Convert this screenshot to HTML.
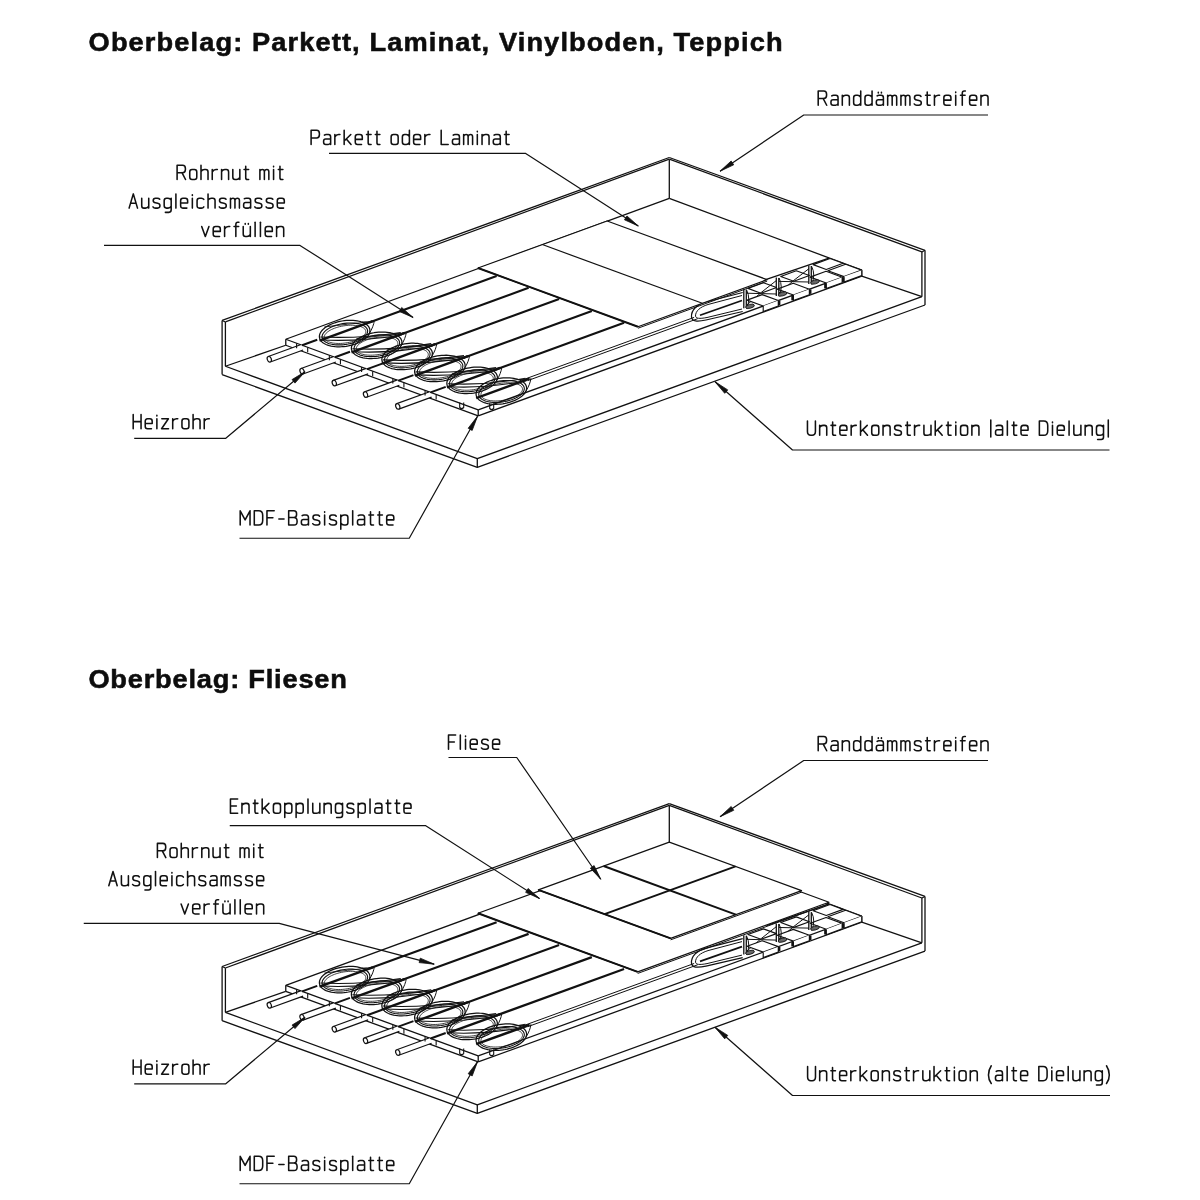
<!DOCTYPE html>
<html><head><meta charset="utf-8"><style>
html,body{margin:0;padding:0;background:#fff;width:1200px;height:1200px;overflow:hidden}
svg{display:block;will-change:transform}
text{font-family:"Liberation Sans",sans-serif;fill:#111;stroke:#111;stroke-width:0.25px}
.t{font-weight:bold;fill:#0d0d0d;stroke:#0d0d0d;stroke-width:0.55px}
</style></head><body>
<svg width="1200" height="1200" viewBox="0 0 1200 1200">
<text class="t" transform="translate(88.6,51.3) scale(1.04,1)" x="0" y="0" textLength="667.31" lengthAdjust="spacing" font-size="26.2">Oberbelag: Parkett, Laminat, Vinylboden, Teppich</text>
<text class="t" transform="translate(88.4,688.1) scale(1.04,1)" x="0" y="0" textLength="248.56" lengthAdjust="spacing" font-size="26.2">Oberbelag: Fliesen</text>
<g><line x1="222.10" y1="320.40" x2="669.30" y2="157.50" stroke="#111" stroke-width="1.25"/>
<line x1="225.40" y1="321.90" x2="669.30" y2="159.20" stroke="#111" stroke-width="1.25"/>
<line x1="669.30" y1="157.50" x2="925.00" y2="250.30" stroke="#111" stroke-width="1.25"/>
<line x1="669.30" y1="159.20" x2="921.90" y2="251.90" stroke="#111" stroke-width="1.25"/>
<line x1="222.10" y1="320.40" x2="225.40" y2="322.00" stroke="#111" stroke-width="1.1"/>
<line x1="921.90" y1="252.00" x2="925.00" y2="250.30" stroke="#111" stroke-width="1.1"/>
<line x1="222.10" y1="320.40" x2="222.10" y2="374.60" stroke="#111" stroke-width="1.3"/>
<line x1="225.40" y1="322.00" x2="225.40" y2="366.25" stroke="#111" stroke-width="1.3"/>
<line x1="669.30" y1="159.50" x2="669.30" y2="198.30" stroke="#111" stroke-width="1.3"/>
<line x1="921.90" y1="252.00" x2="921.90" y2="296.70" stroke="#111" stroke-width="1.3"/>
<line x1="925.00" y1="250.30" x2="925.00" y2="305.00" stroke="#111" stroke-width="1.3"/>
<path d="M225.40,366.25 L477.30,458.70 L921.90,296.70" fill="none" stroke="#111" stroke-width="1.3" stroke-linejoin="round"/>
<path d="M222.10,374.60 L477.30,467.30 L925.00,305.00" fill="none" stroke="#111" stroke-width="1.3" stroke-linejoin="round"/>
<line x1="477.30" y1="458.70" x2="477.30" y2="467.30" stroke="#111" stroke-width="1.3"/>
<line x1="225.40" y1="366.25" x2="285.77" y2="345.25" stroke="#111" stroke-width="1.3"/>
<line x1="861.75" y1="276.13" x2="921.90" y2="296.70" stroke="#111" stroke-width="1.3"/>
<line x1="285.77" y1="339.25" x2="669.30" y2="198.30" stroke="#111" stroke-width="1.3"/>
<line x1="669.30" y1="198.30" x2="861.75" y2="270.13" stroke="#111" stroke-width="1.3"/>
<line x1="478.22" y1="409.88" x2="861.75" y2="270.13" stroke="#111" stroke-width="1.3"/>
<line x1="478.22" y1="415.88" x2="861.75" y2="276.13" stroke="#111" stroke-width="1.3"/>
<line x1="285.77" y1="339.25" x2="478.22" y2="409.88" stroke="#111" stroke-width="1.3"/>
<line x1="285.77" y1="345.25" x2="478.22" y2="415.88" stroke="#111" stroke-width="1.3"/>
<line x1="285.77" y1="339.25" x2="285.77" y2="345.25" stroke="#111" stroke-width="1.3"/>
<line x1="478.22" y1="409.88" x2="478.22" y2="415.88" stroke="#111" stroke-width="1.3"/>
<line x1="861.75" y1="270.13" x2="861.75" y2="276.13" stroke="#111" stroke-width="1.3"/>
<line x1="369.22" y1="322.48" x2="496.62" y2="276.06" stroke="#111" stroke-width="2.2"/>
<path d="M369.84,329.56 L369.91,330.69 L369.80,331.85 L369.48,333.02 L368.97,334.19 L368.27,335.36 L367.38,336.51 L366.32,337.64 L365.09,338.74 L363.69,339.80 L362.15,340.81 L360.47,341.76 L358.67,342.65 L356.76,343.46 L354.75,344.20 L352.66,344.86 L350.51,345.43 L348.32,345.90 L346.09,346.28 L343.86,346.56 L341.63,346.73 L339.43,346.80 L337.26,346.77 L335.16,346.64 L333.12,346.40 L331.18,346.07 L329.34,345.63 L327.63,345.10 L326.04,344.48 L324.61,343.77 L323.33,342.99 L322.21,342.13 L321.27,341.20 L320.52,340.22 L319.95,339.18 L319.58,338.09 L319.40,336.98 L319.42,335.83 L319.64,334.67 L320.05,333.50 L320.66,332.32 L321.45,331.16 L322.43,330.02 L323.58,328.90 L324.89,327.82 L326.36,326.79 L327.97,325.81 L329.72,324.89 L331.57,324.04 L333.54,323.26 L335.59,322.56 L337.71,321.95 L339.88,321.43 L342.09,321.00 L344.32,320.67 L346.56,320.44 L348.78,320.32 L350.96,320.30 L353.10,320.38 L355.17,320.57 L357.16,320.85 L359.05,321.24 L360.83,321.72 L362.48,322.30 L363.99,322.96 L365.35,323.71 L366.55,324.53 L367.58,325.43 L368.43,326.38 L369.09,327.40 L369.56,328.46 L369.84,329.56 Z" fill="none" stroke="#111" stroke-width="1.25" stroke-linejoin="round"/>
<path d="M367.57,330.35 L367.62,331.28 L367.50,332.23 L367.20,333.20 L366.73,334.17 L366.08,335.14 L365.27,336.10 L364.30,337.04 L363.18,337.96 L361.91,338.85 L360.51,339.70 L358.99,340.50 L357.35,341.25 L355.62,341.95 L353.80,342.58 L351.92,343.15 L349.98,343.64 L348.00,344.06 L345.99,344.40 L343.97,344.65 L341.97,344.83 L339.98,344.92 L338.03,344.92 L336.14,344.83 L334.31,344.66 L332.57,344.41 L330.92,344.08 L329.38,343.66 L327.97,343.17 L326.68,342.61 L325.54,341.98 L324.55,341.29 L323.71,340.54 L323.05,339.74 L322.55,338.89 L322.23,338.00 L322.08,337.09 L322.12,336.14 L322.33,335.18 L322.71,334.22 L323.27,333.24 L324.00,332.28 L324.90,331.33 L325.94,330.40 L327.14,329.49 L328.48,328.62 L329.94,327.79 L331.52,327.02 L333.20,326.29 L334.98,325.63 L336.83,325.03 L338.75,324.50 L340.71,324.04 L342.71,323.66 L344.72,323.36 L346.73,323.15 L348.73,323.02 L350.70,322.97 L352.62,323.01 L354.48,323.14 L356.27,323.35 L357.97,323.65 L359.56,324.02 L361.04,324.47 L362.39,325.00 L363.61,325.60 L364.68,326.26 L365.59,326.98 L366.34,327.76 L366.92,328.58 L367.33,329.45 L367.57,330.35 Z" fill="none" stroke="#111" stroke-width="1.1" stroke-linejoin="round"/>
<path d="M365.79,331.06 L365.83,331.83 L365.70,332.61 L365.42,333.41 L364.97,334.21 L364.37,335.02 L363.62,335.82 L362.72,336.61 L361.68,337.38 L360.52,338.13 L359.23,338.84 L357.83,339.53 L356.33,340.17 L354.74,340.76 L353.08,341.31 L351.35,341.80 L349.58,342.24 L347.77,342.61 L345.94,342.91 L344.10,343.15 L342.27,343.33 L340.46,343.43 L338.68,343.46 L336.96,343.42 L335.30,343.30 L333.71,343.12 L332.22,342.87 L330.82,342.55 L329.54,342.17 L328.38,341.73 L327.35,341.23 L326.45,340.67 L325.71,340.07 L325.11,339.42 L324.67,338.73 L324.39,338.01 L324.27,337.26 L324.31,336.48 L324.52,335.69 L324.89,334.89 L325.41,334.08 L326.09,333.28 L326.91,332.49 L327.88,331.70 L328.99,330.95 L330.21,330.21 L331.56,329.51 L333.01,328.85 L334.55,328.23 L336.18,327.66 L337.88,327.14 L339.63,326.67 L341.42,326.27 L343.25,325.93 L345.08,325.66 L346.92,325.45 L348.74,325.31 L350.54,325.25 L352.29,325.25 L353.98,325.33 L355.60,325.48 L357.14,325.70 L358.59,325.98 L359.93,326.33 L361.16,326.74 L362.25,327.22 L363.22,327.74 L364.04,328.32 L364.71,328.95 L365.23,329.62 L365.59,330.33 L365.79,331.06 Z" fill="none" stroke="#111" stroke-width="0.8" stroke-linejoin="round"/>
<path d="M361.71,322.01 Q368.77,322.18 372.77,321.18" fill="none" stroke="#111" stroke-width="1.0" stroke-linejoin="round"/>
<path d="M369.00,334.14 Q373.77,326.18 374.27,320.68" fill="none" stroke="#111" stroke-width="1.0" stroke-linejoin="round"/>
<path d="M320.35,336.95 Q358.35,338.95 400.76,332.42" fill="none" stroke="#111" stroke-width="1.1" stroke-linejoin="round"/>
<path d="M321.35,339.95 Q358.35,341.95 401.76,334.92" fill="none" stroke="#111" stroke-width="1.1" stroke-linejoin="round"/>
<path d="M324.35,326.95 Q349.35,323.95 366.77,322.18" fill="none" stroke="#111" stroke-width="0.9" stroke-linejoin="round"/>
<line x1="319.50" y1="340.59" x2="372.77" y2="321.18" stroke="#111" stroke-width="2.4"/>
<line x1="401.21" y1="334.22" x2="528.61" y2="287.80" stroke="#111" stroke-width="2.2"/>
<path d="M401.83,341.30 L401.90,342.43 L401.79,343.59 L401.47,344.76 L400.96,345.93 L400.26,347.10 L399.37,348.25 L398.31,349.38 L397.08,350.48 L395.68,351.54 L394.14,352.55 L392.46,353.50 L390.66,354.39 L388.75,355.20 L386.74,355.94 L384.65,356.60 L382.50,357.17 L380.31,357.64 L378.08,358.02 L375.85,358.30 L373.62,358.47 L371.42,358.54 L369.25,358.51 L367.15,358.38 L365.11,358.14 L363.17,357.81 L361.33,357.37 L359.62,356.84 L358.03,356.22 L356.60,355.51 L355.32,354.73 L354.20,353.87 L353.26,352.94 L352.51,351.96 L351.94,350.92 L351.57,349.83 L351.39,348.72 L351.41,347.57 L351.63,346.41 L352.04,345.24 L352.65,344.06 L353.44,342.90 L354.42,341.76 L355.57,340.64 L356.88,339.56 L358.35,338.53 L359.96,337.55 L361.71,336.63 L363.56,335.78 L365.53,335.00 L367.58,334.30 L369.70,333.69 L371.87,333.17 L374.08,332.74 L376.31,332.41 L378.55,332.18 L380.77,332.06 L382.95,332.04 L385.09,332.12 L387.16,332.31 L389.15,332.59 L391.04,332.98 L392.82,333.46 L394.47,334.04 L395.98,334.70 L397.34,335.45 L398.54,336.27 L399.57,337.17 L400.42,338.12 L401.08,339.14 L401.55,340.20 L401.83,341.30 Z" fill="none" stroke="#111" stroke-width="1.25" stroke-linejoin="round"/>
<path d="M399.56,342.09 L399.61,343.02 L399.49,343.97 L399.19,344.94 L398.72,345.91 L398.07,346.88 L397.26,347.84 L396.29,348.78 L395.17,349.70 L393.90,350.59 L392.50,351.44 L390.98,352.24 L389.34,352.99 L387.61,353.69 L385.79,354.32 L383.91,354.89 L381.97,355.38 L379.99,355.80 L377.98,356.14 L375.96,356.39 L373.96,356.57 L371.97,356.66 L370.02,356.66 L368.13,356.57 L366.30,356.40 L364.56,356.15 L362.91,355.82 L361.37,355.40 L359.96,354.91 L358.67,354.35 L357.53,353.72 L356.54,353.03 L355.70,352.28 L355.04,351.48 L354.54,350.63 L354.22,349.74 L354.07,348.83 L354.11,347.88 L354.32,346.92 L354.70,345.96 L355.26,344.98 L355.99,344.02 L356.89,343.07 L357.93,342.14 L359.13,341.23 L360.47,340.36 L361.93,339.53 L363.51,338.76 L365.19,338.03 L366.97,337.37 L368.82,336.77 L370.74,336.24 L372.70,335.78 L374.70,335.40 L376.71,335.10 L378.72,334.89 L380.72,334.76 L382.69,334.71 L384.61,334.75 L386.47,334.88 L388.26,335.09 L389.96,335.39 L391.55,335.76 L393.03,336.21 L394.38,336.74 L395.60,337.34 L396.67,338.00 L397.58,338.72 L398.33,339.50 L398.91,340.32 L399.32,341.19 L399.56,342.09 Z" fill="none" stroke="#111" stroke-width="1.1" stroke-linejoin="round"/>
<path d="M397.78,342.80 L397.82,343.57 L397.69,344.35 L397.41,345.15 L396.96,345.95 L396.36,346.76 L395.61,347.56 L394.71,348.35 L393.67,349.12 L392.51,349.87 L391.22,350.58 L389.82,351.27 L388.32,351.91 L386.73,352.50 L385.07,353.05 L383.34,353.54 L381.57,353.98 L379.76,354.35 L377.93,354.65 L376.09,354.89 L374.26,355.07 L372.45,355.17 L370.67,355.20 L368.95,355.16 L367.29,355.04 L365.70,354.86 L364.21,354.61 L362.81,354.29 L361.53,353.91 L360.37,353.47 L359.34,352.97 L358.44,352.41 L357.70,351.81 L357.10,351.16 L356.66,350.47 L356.38,349.75 L356.26,349.00 L356.30,348.22 L356.51,347.43 L356.88,346.63 L357.40,345.82 L358.08,345.02 L358.90,344.23 L359.87,343.44 L360.98,342.69 L362.20,341.95 L363.55,341.25 L365.00,340.59 L366.54,339.97 L368.17,339.40 L369.87,338.88 L371.62,338.41 L373.41,338.01 L375.24,337.67 L377.07,337.40 L378.91,337.19 L380.73,337.05 L382.53,336.99 L384.28,336.99 L385.97,337.07 L387.59,337.22 L389.13,337.44 L390.58,337.72 L391.92,338.07 L393.15,338.48 L394.24,338.96 L395.21,339.48 L396.03,340.06 L396.70,340.69 L397.22,341.36 L397.58,342.07 L397.78,342.80 Z" fill="none" stroke="#111" stroke-width="0.8" stroke-linejoin="round"/>
<path d="M393.70,333.75 Q400.76,333.92 404.76,332.92" fill="none" stroke="#111" stroke-width="1.0" stroke-linejoin="round"/>
<path d="M400.99,345.88 Q405.76,337.92 406.26,332.42" fill="none" stroke="#111" stroke-width="1.0" stroke-linejoin="round"/>
<path d="M352.34,348.69 Q390.34,350.69 431.24,343.61" fill="none" stroke="#111" stroke-width="1.1" stroke-linejoin="round"/>
<path d="M353.34,351.69 Q390.34,353.69 432.24,346.11" fill="none" stroke="#111" stroke-width="1.1" stroke-linejoin="round"/>
<path d="M356.34,338.69 Q381.34,335.69 398.76,333.92" fill="none" stroke="#111" stroke-width="0.9" stroke-linejoin="round"/>
<line x1="351.49" y1="352.33" x2="404.76" y2="332.92" stroke="#111" stroke-width="2.4"/>
<line x1="431.69" y1="345.41" x2="559.09" y2="298.98" stroke="#111" stroke-width="2.2"/>
<path d="M432.31,352.48 L432.38,353.61 L432.27,354.77 L431.95,355.94 L431.44,357.11 L430.74,358.28 L429.85,359.43 L428.79,360.56 L427.56,361.66 L426.16,362.72 L424.62,363.73 L422.94,364.68 L421.14,365.57 L419.23,366.38 L417.22,367.12 L415.13,367.78 L412.98,368.35 L410.79,368.82 L408.56,369.20 L406.33,369.48 L404.10,369.65 L401.90,369.72 L399.73,369.69 L397.63,369.56 L395.59,369.32 L393.65,368.99 L391.81,368.55 L390.10,368.02 L388.51,367.40 L387.08,366.69 L385.80,365.91 L384.68,365.05 L383.74,364.12 L382.99,363.14 L382.42,362.10 L382.05,361.01 L381.87,359.90 L381.89,358.75 L382.11,357.59 L382.52,356.42 L383.13,355.24 L383.92,354.08 L384.90,352.94 L386.05,351.82 L387.36,350.74 L388.83,349.71 L390.44,348.73 L392.19,347.81 L394.04,346.96 L396.01,346.18 L398.06,345.48 L400.18,344.87 L402.35,344.35 L404.56,343.92 L406.79,343.59 L409.03,343.36 L411.25,343.24 L413.43,343.22 L415.57,343.30 L417.64,343.49 L419.63,343.77 L421.52,344.16 L423.30,344.64 L424.95,345.22 L426.46,345.88 L427.82,346.63 L429.02,347.45 L430.05,348.35 L430.90,349.30 L431.56,350.32 L432.03,351.38 L432.31,352.48 Z" fill="none" stroke="#111" stroke-width="1.25" stroke-linejoin="round"/>
<path d="M430.04,353.27 L430.09,354.20 L429.97,355.15 L429.67,356.12 L429.20,357.09 L428.55,358.06 L427.74,359.02 L426.77,359.96 L425.65,360.88 L424.38,361.77 L422.98,362.62 L421.46,363.42 L419.82,364.17 L418.09,364.87 L416.27,365.50 L414.39,366.07 L412.45,366.56 L410.47,366.98 L408.46,367.32 L406.44,367.57 L404.44,367.75 L402.45,367.84 L400.50,367.84 L398.61,367.75 L396.78,367.58 L395.04,367.33 L393.39,367.00 L391.85,366.58 L390.44,366.09 L389.15,365.53 L388.01,364.90 L387.02,364.21 L386.18,363.46 L385.52,362.66 L385.02,361.81 L384.70,360.92 L384.55,360.01 L384.59,359.06 L384.80,358.10 L385.18,357.14 L385.74,356.16 L386.47,355.20 L387.37,354.25 L388.41,353.32 L389.61,352.41 L390.95,351.54 L392.41,350.71 L393.99,349.94 L395.67,349.21 L397.45,348.55 L399.30,347.95 L401.22,347.42 L403.18,346.96 L405.18,346.58 L407.19,346.28 L409.20,346.07 L411.20,345.94 L413.17,345.89 L415.09,345.93 L416.95,346.06 L418.74,346.27 L420.44,346.57 L422.03,346.94 L423.51,347.39 L424.86,347.92 L426.08,348.52 L427.15,349.18 L428.06,349.90 L428.81,350.68 L429.39,351.50 L429.80,352.37 L430.04,353.27 Z" fill="none" stroke="#111" stroke-width="1.1" stroke-linejoin="round"/>
<path d="M428.26,353.98 L428.30,354.75 L428.17,355.53 L427.89,356.33 L427.44,357.13 L426.84,357.94 L426.09,358.74 L425.19,359.53 L424.15,360.30 L422.99,361.05 L421.70,361.76 L420.30,362.45 L418.80,363.09 L417.21,363.68 L415.55,364.23 L413.82,364.72 L412.05,365.16 L410.24,365.53 L408.41,365.83 L406.57,366.07 L404.74,366.25 L402.93,366.35 L401.15,366.38 L399.43,366.34 L397.77,366.22 L396.18,366.04 L394.69,365.79 L393.29,365.47 L392.01,365.09 L390.85,364.65 L389.82,364.15 L388.92,363.59 L388.18,362.99 L387.58,362.34 L387.14,361.65 L386.86,360.93 L386.74,360.18 L386.78,359.40 L386.99,358.61 L387.36,357.81 L387.88,357.00 L388.56,356.20 L389.38,355.41 L390.35,354.62 L391.46,353.87 L392.68,353.13 L394.03,352.43 L395.48,351.77 L397.02,351.15 L398.65,350.58 L400.35,350.06 L402.10,349.59 L403.89,349.19 L405.72,348.85 L407.55,348.58 L409.39,348.37 L411.21,348.23 L413.01,348.17 L414.76,348.17 L416.45,348.25 L418.07,348.40 L419.61,348.62 L421.06,348.90 L422.40,349.25 L423.63,349.66 L424.72,350.14 L425.69,350.66 L426.51,351.24 L427.18,351.87 L427.70,352.54 L428.06,353.25 L428.26,353.98 Z" fill="none" stroke="#111" stroke-width="0.8" stroke-linejoin="round"/>
<path d="M424.18,344.93 Q431.24,345.11 435.24,344.11" fill="none" stroke="#111" stroke-width="1.0" stroke-linejoin="round"/>
<path d="M431.47,357.06 Q436.24,349.11 436.74,343.61" fill="none" stroke="#111" stroke-width="1.0" stroke-linejoin="round"/>
<path d="M382.82,359.87 Q420.82,361.87 463.99,355.63" fill="none" stroke="#111" stroke-width="1.1" stroke-linejoin="round"/>
<path d="M383.82,362.87 Q420.82,364.87 464.99,358.13" fill="none" stroke="#111" stroke-width="1.1" stroke-linejoin="round"/>
<path d="M386.82,349.87 Q411.82,346.87 429.24,345.11" fill="none" stroke="#111" stroke-width="0.9" stroke-linejoin="round"/>
<line x1="381.97" y1="363.52" x2="435.24" y2="344.11" stroke="#111" stroke-width="2.4"/>
<line x1="464.44" y1="357.42" x2="591.84" y2="311.00" stroke="#111" stroke-width="2.2"/>
<path d="M465.05,364.50 L465.12,365.63 L465.01,366.79 L464.69,367.96 L464.18,369.13 L463.48,370.30 L462.59,371.45 L461.53,372.58 L460.30,373.68 L458.90,374.74 L457.36,375.75 L455.68,376.70 L453.88,377.59 L451.97,378.40 L449.96,379.14 L447.87,379.80 L445.72,380.37 L443.53,380.84 L441.30,381.22 L439.07,381.50 L436.84,381.67 L434.64,381.74 L432.47,381.71 L430.37,381.58 L428.33,381.34 L426.39,381.01 L424.55,380.57 L422.84,380.04 L421.25,379.42 L419.82,378.71 L418.54,377.93 L417.42,377.07 L416.48,376.14 L415.73,375.16 L415.16,374.12 L414.79,373.03 L414.61,371.92 L414.63,370.77 L414.85,369.61 L415.26,368.44 L415.87,367.26 L416.66,366.10 L417.64,364.96 L418.79,363.84 L420.10,362.76 L421.57,361.73 L423.18,360.75 L424.93,359.83 L426.78,358.98 L428.75,358.20 L430.80,357.50 L432.92,356.89 L435.09,356.37 L437.30,355.94 L439.53,355.61 L441.77,355.38 L443.99,355.26 L446.17,355.24 L448.31,355.32 L450.38,355.51 L452.37,355.79 L454.26,356.18 L456.04,356.66 L457.69,357.24 L459.20,357.90 L460.56,358.65 L461.76,359.47 L462.79,360.37 L463.64,361.32 L464.30,362.34 L464.77,363.40 L465.05,364.50 Z" fill="none" stroke="#111" stroke-width="1.25" stroke-linejoin="round"/>
<path d="M462.78,365.29 L462.83,366.22 L462.71,367.17 L462.41,368.14 L461.94,369.11 L461.29,370.08 L460.48,371.04 L459.51,371.98 L458.39,372.90 L457.12,373.79 L455.72,374.64 L454.20,375.44 L452.56,376.19 L450.83,376.89 L449.01,377.52 L447.13,378.09 L445.19,378.58 L443.21,379.00 L441.20,379.34 L439.18,379.59 L437.18,379.77 L435.19,379.86 L433.24,379.86 L431.35,379.77 L429.52,379.60 L427.78,379.35 L426.13,379.02 L424.59,378.60 L423.18,378.11 L421.89,377.55 L420.75,376.92 L419.76,376.23 L418.92,375.48 L418.26,374.68 L417.76,373.83 L417.44,372.94 L417.29,372.03 L417.33,371.08 L417.54,370.12 L417.92,369.16 L418.48,368.18 L419.21,367.22 L420.11,366.27 L421.15,365.34 L422.35,364.43 L423.69,363.56 L425.15,362.73 L426.73,361.96 L428.41,361.23 L430.19,360.57 L432.04,359.97 L433.96,359.44 L435.92,358.98 L437.92,358.60 L439.93,358.30 L441.94,358.09 L443.94,357.96 L445.91,357.91 L447.83,357.95 L449.69,358.08 L451.48,358.29 L453.18,358.59 L454.77,358.96 L456.25,359.41 L457.60,359.94 L458.82,360.54 L459.89,361.20 L460.80,361.92 L461.55,362.70 L462.13,363.52 L462.54,364.39 L462.78,365.29 Z" fill="none" stroke="#111" stroke-width="1.1" stroke-linejoin="round"/>
<path d="M461.00,366.00 L461.04,366.77 L460.91,367.55 L460.63,368.35 L460.18,369.15 L459.58,369.96 L458.83,370.76 L457.93,371.55 L456.89,372.32 L455.73,373.07 L454.44,373.78 L453.04,374.47 L451.54,375.11 L449.95,375.70 L448.29,376.25 L446.56,376.74 L444.79,377.18 L442.98,377.55 L441.15,377.85 L439.31,378.09 L437.48,378.27 L435.67,378.37 L433.89,378.40 L432.17,378.36 L430.51,378.24 L428.92,378.06 L427.43,377.81 L426.03,377.49 L424.75,377.11 L423.59,376.67 L422.56,376.17 L421.66,375.61 L420.92,375.01 L420.32,374.36 L419.88,373.67 L419.60,372.95 L419.48,372.20 L419.52,371.42 L419.73,370.63 L420.10,369.83 L420.62,369.02 L421.30,368.22 L422.12,367.43 L423.09,366.64 L424.20,365.89 L425.42,365.15 L426.77,364.45 L428.22,363.79 L429.76,363.17 L431.39,362.60 L433.09,362.08 L434.84,361.61 L436.63,361.21 L438.46,360.87 L440.29,360.60 L442.13,360.39 L443.95,360.25 L445.75,360.19 L447.50,360.19 L449.19,360.27 L450.81,360.42 L452.35,360.64 L453.80,360.92 L455.14,361.27 L456.37,361.68 L457.46,362.16 L458.43,362.68 L459.25,363.26 L459.92,363.89 L460.44,364.56 L460.80,365.27 L461.00,366.00 Z" fill="none" stroke="#111" stroke-width="0.8" stroke-linejoin="round"/>
<path d="M456.92,356.95 Q463.99,357.13 467.99,356.13" fill="none" stroke="#111" stroke-width="1.0" stroke-linejoin="round"/>
<path d="M464.21,369.08 Q468.99,361.13 469.49,355.63" fill="none" stroke="#111" stroke-width="1.0" stroke-linejoin="round"/>
<path d="M415.56,371.89 Q453.56,373.89 496.23,367.46" fill="none" stroke="#111" stroke-width="1.1" stroke-linejoin="round"/>
<path d="M416.56,374.89 Q453.56,376.89 497.23,369.96" fill="none" stroke="#111" stroke-width="1.1" stroke-linejoin="round"/>
<path d="M419.56,361.89 Q444.56,358.89 461.99,357.13" fill="none" stroke="#111" stroke-width="0.9" stroke-linejoin="round"/>
<line x1="414.72" y1="375.54" x2="467.99" y2="356.13" stroke="#111" stroke-width="2.4"/>
<line x1="496.68" y1="369.26" x2="624.08" y2="322.84" stroke="#111" stroke-width="2.2"/>
<path d="M497.30,376.33 L497.37,377.46 L497.26,378.62 L496.94,379.79 L496.43,380.96 L495.73,382.13 L494.84,383.28 L493.78,384.41 L492.55,385.51 L491.15,386.57 L489.61,387.58 L487.93,388.53 L486.13,389.42 L484.22,390.23 L482.21,390.97 L480.12,391.63 L477.97,392.20 L475.78,392.67 L473.55,393.05 L471.32,393.33 L469.09,393.50 L466.89,393.57 L464.72,393.54 L462.62,393.41 L460.58,393.17 L458.64,392.84 L456.80,392.40 L455.09,391.87 L453.50,391.25 L452.07,390.54 L450.79,389.76 L449.67,388.90 L448.73,387.97 L447.98,386.99 L447.41,385.95 L447.04,384.86 L446.86,383.75 L446.88,382.60 L447.10,381.44 L447.51,380.27 L448.12,379.09 L448.91,377.93 L449.89,376.79 L451.04,375.67 L452.35,374.59 L453.82,373.56 L455.43,372.58 L457.18,371.66 L459.03,370.81 L461.00,370.03 L463.05,369.33 L465.17,368.72 L467.34,368.20 L469.55,367.77 L471.78,367.44 L474.02,367.21 L476.24,367.09 L478.42,367.07 L480.56,367.15 L482.63,367.34 L484.62,367.62 L486.51,368.01 L488.29,368.49 L489.94,369.07 L491.45,369.73 L492.81,370.48 L494.01,371.30 L495.04,372.20 L495.89,373.15 L496.55,374.17 L497.02,375.23 L497.30,376.33 Z" fill="none" stroke="#111" stroke-width="1.25" stroke-linejoin="round"/>
<path d="M495.03,377.12 L495.08,378.05 L494.96,379.00 L494.66,379.97 L494.19,380.94 L493.54,381.91 L492.73,382.87 L491.76,383.81 L490.64,384.73 L489.37,385.62 L487.97,386.47 L486.45,387.27 L484.81,388.02 L483.08,388.72 L481.26,389.35 L479.38,389.92 L477.44,390.41 L475.46,390.83 L473.45,391.17 L471.43,391.42 L469.43,391.60 L467.44,391.69 L465.49,391.69 L463.60,391.60 L461.77,391.43 L460.03,391.18 L458.38,390.85 L456.84,390.43 L455.43,389.94 L454.14,389.38 L453.00,388.75 L452.01,388.06 L451.17,387.31 L450.51,386.51 L450.01,385.66 L449.69,384.77 L449.54,383.86 L449.58,382.91 L449.79,381.95 L450.17,380.99 L450.73,380.01 L451.46,379.05 L452.36,378.10 L453.40,377.17 L454.60,376.26 L455.94,375.39 L457.40,374.56 L458.98,373.79 L460.66,373.06 L462.44,372.40 L464.29,371.80 L466.21,371.27 L468.17,370.81 L470.17,370.43 L472.18,370.13 L474.19,369.92 L476.19,369.79 L478.16,369.74 L480.08,369.78 L481.94,369.91 L483.73,370.12 L485.43,370.42 L487.02,370.79 L488.50,371.24 L489.85,371.77 L491.07,372.37 L492.14,373.03 L493.05,373.75 L493.80,374.53 L494.38,375.35 L494.79,376.22 L495.03,377.12 Z" fill="none" stroke="#111" stroke-width="1.1" stroke-linejoin="round"/>
<path d="M493.25,377.83 L493.29,378.60 L493.16,379.38 L492.88,380.18 L492.43,380.98 L491.83,381.79 L491.08,382.59 L490.18,383.38 L489.14,384.15 L487.98,384.90 L486.69,385.61 L485.29,386.30 L483.79,386.94 L482.20,387.53 L480.54,388.08 L478.81,388.57 L477.04,389.01 L475.23,389.38 L473.40,389.68 L471.56,389.92 L469.73,390.10 L467.92,390.20 L466.14,390.23 L464.42,390.19 L462.76,390.07 L461.17,389.89 L459.68,389.64 L458.28,389.32 L457.00,388.94 L455.84,388.50 L454.81,388.00 L453.91,387.44 L453.17,386.84 L452.57,386.19 L452.13,385.50 L451.85,384.78 L451.73,384.03 L451.77,383.25 L451.98,382.46 L452.35,381.66 L452.87,380.85 L453.55,380.05 L454.37,379.26 L455.34,378.47 L456.45,377.72 L457.67,376.98 L459.02,376.28 L460.47,375.62 L462.01,375.00 L463.64,374.43 L465.34,373.91 L467.09,373.44 L468.88,373.04 L470.71,372.70 L472.54,372.43 L474.38,372.22 L476.20,372.08 L478.00,372.02 L479.75,372.02 L481.44,372.10 L483.06,372.25 L484.60,372.47 L486.05,372.75 L487.39,373.10 L488.62,373.51 L489.71,373.99 L490.68,374.51 L491.50,375.09 L492.17,375.72 L492.69,376.39 L493.05,377.10 L493.25,377.83 Z" fill="none" stroke="#111" stroke-width="0.8" stroke-linejoin="round"/>
<path d="M489.17,368.78 Q496.23,368.96 500.23,367.96" fill="none" stroke="#111" stroke-width="1.0" stroke-linejoin="round"/>
<path d="M496.46,380.91 Q501.23,372.96 501.73,367.46" fill="none" stroke="#111" stroke-width="1.0" stroke-linejoin="round"/>
<path d="M447.81,383.72 Q485.81,385.72 525.45,378.19" fill="none" stroke="#111" stroke-width="1.1" stroke-linejoin="round"/>
<path d="M448.81,386.72 Q485.81,388.72 526.45,380.69" fill="none" stroke="#111" stroke-width="1.1" stroke-linejoin="round"/>
<path d="M451.81,373.72 Q476.81,370.72 494.23,368.96" fill="none" stroke="#111" stroke-width="0.9" stroke-linejoin="round"/>
<line x1="446.96" y1="387.37" x2="500.23" y2="367.96" stroke="#111" stroke-width="2.4"/>
<line x1="524.14" y1="379.33" x2="694.15" y2="317.38" stroke="#111" stroke-width="1.0"/>
<line x1="527.67" y1="380.63" x2="697.68" y2="318.68" stroke="#111" stroke-width="1.0"/>
<path d="M526.52,387.06 L526.59,388.19 L526.48,389.35 L526.16,390.52 L525.65,391.69 L524.95,392.86 L524.06,394.01 L523.00,395.14 L521.77,396.24 L520.37,397.30 L518.83,398.31 L517.15,399.26 L515.35,400.15 L513.44,400.96 L511.43,401.70 L509.34,402.36 L507.19,402.93 L505.00,403.40 L502.77,403.78 L500.54,404.06 L498.31,404.23 L496.11,404.30 L493.94,404.27 L491.84,404.14 L489.80,403.90 L487.86,403.57 L486.02,403.13 L484.31,402.60 L482.72,401.98 L481.29,401.27 L480.01,400.49 L478.89,399.63 L477.95,398.70 L477.20,397.72 L476.63,396.68 L476.26,395.59 L476.08,394.48 L476.10,393.33 L476.32,392.17 L476.73,391.00 L477.34,389.82 L478.13,388.66 L479.11,387.52 L480.26,386.40 L481.57,385.32 L483.04,384.29 L484.65,383.31 L486.40,382.39 L488.25,381.54 L490.22,380.76 L492.27,380.06 L494.39,379.45 L496.56,378.93 L498.77,378.50 L501.00,378.17 L503.24,377.94 L505.46,377.82 L507.64,377.80 L509.78,377.88 L511.85,378.07 L513.84,378.35 L515.73,378.74 L517.51,379.22 L519.16,379.80 L520.67,380.46 L522.03,381.21 L523.23,382.03 L524.26,382.93 L525.11,383.88 L525.77,384.90 L526.24,385.96 L526.52,387.06 Z" fill="none" stroke="#111" stroke-width="1.25" stroke-linejoin="round"/>
<path d="M524.25,387.85 L524.30,388.78 L524.18,389.73 L523.88,390.70 L523.41,391.67 L522.76,392.64 L521.95,393.60 L520.98,394.54 L519.86,395.46 L518.59,396.35 L517.19,397.20 L515.67,398.00 L514.03,398.75 L512.30,399.45 L510.48,400.08 L508.60,400.65 L506.66,401.14 L504.68,401.56 L502.67,401.90 L500.65,402.15 L498.65,402.33 L496.66,402.42 L494.71,402.42 L492.82,402.33 L490.99,402.16 L489.25,401.91 L487.60,401.58 L486.06,401.16 L484.65,400.67 L483.36,400.11 L482.22,399.48 L481.23,398.79 L480.39,398.04 L479.73,397.24 L479.23,396.39 L478.91,395.50 L478.76,394.59 L478.80,393.64 L479.01,392.68 L479.39,391.72 L479.95,390.74 L480.68,389.78 L481.58,388.83 L482.62,387.90 L483.82,386.99 L485.16,386.12 L486.62,385.29 L488.20,384.52 L489.88,383.79 L491.66,383.13 L493.51,382.53 L495.43,382.00 L497.39,381.54 L499.39,381.16 L501.40,380.86 L503.41,380.65 L505.41,380.52 L507.38,380.47 L509.30,380.51 L511.16,380.64 L512.95,380.85 L514.65,381.15 L516.24,381.52 L517.72,381.97 L519.07,382.50 L520.29,383.10 L521.36,383.76 L522.27,384.48 L523.02,385.26 L523.60,386.08 L524.01,386.95 L524.25,387.85 Z" fill="none" stroke="#111" stroke-width="1.1" stroke-linejoin="round"/>
<path d="M522.47,388.56 L522.51,389.33 L522.38,390.11 L522.10,390.91 L521.65,391.71 L521.05,392.52 L520.30,393.32 L519.40,394.11 L518.36,394.88 L517.20,395.63 L515.91,396.34 L514.51,397.03 L513.01,397.67 L511.42,398.26 L509.76,398.81 L508.03,399.30 L506.26,399.74 L504.45,400.11 L502.62,400.41 L500.78,400.65 L498.95,400.83 L497.14,400.93 L495.36,400.96 L493.64,400.92 L491.98,400.80 L490.39,400.62 L488.90,400.37 L487.50,400.05 L486.22,399.67 L485.06,399.23 L484.03,398.73 L483.13,398.17 L482.39,397.57 L481.79,396.92 L481.35,396.23 L481.07,395.51 L480.95,394.76 L480.99,393.98 L481.20,393.19 L481.57,392.39 L482.09,391.58 L482.77,390.78 L483.59,389.99 L484.56,389.20 L485.67,388.45 L486.89,387.71 L488.24,387.01 L489.69,386.35 L491.23,385.73 L492.86,385.16 L494.56,384.64 L496.31,384.17 L498.10,383.77 L499.93,383.43 L501.76,383.16 L503.60,382.95 L505.42,382.81 L507.22,382.75 L508.97,382.75 L510.66,382.83 L512.28,382.98 L513.82,383.20 L515.27,383.48 L516.61,383.83 L517.84,384.24 L518.93,384.72 L519.90,385.24 L520.72,385.82 L521.39,386.45 L521.91,387.12 L522.27,387.83 L522.47,388.56 Z" fill="none" stroke="#111" stroke-width="0.8" stroke-linejoin="round"/>
<path d="M518.39,379.51 Q525.45,379.69 529.45,378.69" fill="none" stroke="#111" stroke-width="1.0" stroke-linejoin="round"/>
<path d="M525.68,391.64 Q530.45,383.69 530.95,378.19" fill="none" stroke="#111" stroke-width="1.0" stroke-linejoin="round"/>
<line x1="476.19" y1="398.10" x2="529.45" y2="378.69" stroke="#111" stroke-width="2.4"/>
<path d="M459.7,402.5 L459.7,407.5 Q461.7,409.5 463.7,407.5 L463.7,402.5" fill="none" stroke="#111" stroke-width="1.1" stroke-linejoin="round"/>
<path d="M489.7,403.5 L489.7,408.5 Q491.7,410.5 493.7,408.5 L493.7,403.5" fill="none" stroke="#111" stroke-width="1.1" stroke-linejoin="round"/>
<path d="M270.29,361.95 L303.13,349.98 L301.15,344.54 L268.31,356.51 Z" fill="#fff" stroke="none"/>
<line x1="270.29" y1="361.95" x2="303.13" y2="349.98" stroke="#111" stroke-width="1.2"/>
<line x1="268.31" y1="356.51" x2="301.15" y2="344.54" stroke="#111" stroke-width="1.2"/>
<ellipse cx="269.30" cy="359.23" rx="2.90" ry="2.0" fill="#fff" stroke="#111" stroke-width="1.2" transform="rotate(70.0 269.30 359.23)"/>
<line x1="302.14" y1="345.26" x2="317.24" y2="339.76" stroke="#111" stroke-width="2.0"/>
<line x1="296.60" y1="343.23" x2="296.60" y2="348.23" stroke="#111" stroke-width="1.1"/>
<line x1="307.69" y1="347.30" x2="307.69" y2="352.30" stroke="#111" stroke-width="1.1"/>
<path d="M303.03,373.97 L335.88,362.00 L333.90,356.56 L301.05,368.53 Z" fill="#fff" stroke="none"/>
<line x1="303.03" y1="373.97" x2="335.88" y2="362.00" stroke="#111" stroke-width="1.2"/>
<line x1="301.05" y1="368.53" x2="333.90" y2="356.56" stroke="#111" stroke-width="1.2"/>
<ellipse cx="302.04" cy="371.25" rx="2.90" ry="2.0" fill="#fff" stroke="#111" stroke-width="1.2" transform="rotate(70.0 302.04 371.25)"/>
<line x1="334.89" y1="357.28" x2="349.98" y2="351.78" stroke="#111" stroke-width="2.0"/>
<line x1="329.35" y1="355.25" x2="329.35" y2="360.25" stroke="#111" stroke-width="1.1"/>
<line x1="340.43" y1="359.31" x2="340.43" y2="364.31" stroke="#111" stroke-width="1.1"/>
<path d="M335.28,385.80 L368.12,373.83 L366.14,368.39 L333.30,380.36 Z" fill="#fff" stroke="none"/>
<line x1="335.28" y1="385.80" x2="368.12" y2="373.83" stroke="#111" stroke-width="1.2"/>
<line x1="333.30" y1="380.36" x2="366.14" y2="368.39" stroke="#111" stroke-width="1.2"/>
<ellipse cx="334.29" cy="383.08" rx="2.90" ry="2.0" fill="#fff" stroke="#111" stroke-width="1.2" transform="rotate(70.0 334.29 383.08)"/>
<line x1="367.13" y1="369.11" x2="382.23" y2="363.61" stroke="#111" stroke-width="2.0"/>
<line x1="361.59" y1="367.08" x2="361.59" y2="372.08" stroke="#111" stroke-width="1.1"/>
<line x1="372.68" y1="371.15" x2="372.68" y2="376.15" stroke="#111" stroke-width="1.1"/>
<path d="M366.51,397.27 L399.36,385.30 L397.38,379.86 L364.53,391.83 Z" fill="#fff" stroke="none"/>
<line x1="366.51" y1="397.27" x2="399.36" y2="385.30" stroke="#111" stroke-width="1.2"/>
<line x1="364.53" y1="391.83" x2="397.38" y2="379.86" stroke="#111" stroke-width="1.2"/>
<ellipse cx="365.52" cy="394.55" rx="2.90" ry="2.0" fill="#fff" stroke="#111" stroke-width="1.2" transform="rotate(70.0 365.52 394.55)"/>
<line x1="398.37" y1="380.58" x2="413.46" y2="375.08" stroke="#111" stroke-width="2.0"/>
<line x1="392.83" y1="378.54" x2="392.83" y2="383.54" stroke="#111" stroke-width="1.1"/>
<line x1="403.91" y1="382.61" x2="403.91" y2="387.61" stroke="#111" stroke-width="1.1"/>
<path d="M398.75,409.10 L431.60,397.13 L429.62,391.69 L396.77,403.66 Z" fill="#fff" stroke="none"/>
<line x1="398.75" y1="409.10" x2="431.60" y2="397.13" stroke="#111" stroke-width="1.2"/>
<line x1="396.77" y1="403.66" x2="429.62" y2="391.69" stroke="#111" stroke-width="1.2"/>
<ellipse cx="397.76" cy="406.38" rx="2.90" ry="2.0" fill="#fff" stroke="#111" stroke-width="1.2" transform="rotate(70.0 397.76 406.38)"/>
<line x1="430.61" y1="392.41" x2="445.71" y2="386.91" stroke="#111" stroke-width="2.0"/>
<line x1="425.07" y1="390.38" x2="425.07" y2="395.38" stroke="#111" stroke-width="1.1"/>
<line x1="436.15" y1="394.44" x2="436.15" y2="399.44" stroke="#111" stroke-width="1.1"/>
<line x1="766.41" y1="279.42" x2="829.00" y2="258.11" stroke="#111" stroke-width="1.4"/>
<path d="M747.89,288.41 L763.43,282.75 L776.53,287.55 L760.99,293.21 Z" fill="#fff" stroke="#111" stroke-width="1.15" stroke-linejoin="round"/>
<path d="M780.74,276.44 L796.28,270.78 L809.37,275.58 L793.84,281.24 Z" fill="#fff" stroke="#111" stroke-width="1.15" stroke-linejoin="round"/>
<path d="M813.14,264.63 L830.01,258.48 L843.11,263.29 L826.24,269.44 Z" fill="#fff" stroke="#111" stroke-width="1.15" stroke-linejoin="round"/>
<path d="M742.7,292.5 L706,302 C697,304.5 691,310 691.5,317 C692,321.5 697,322 706,320 L742.7,311.5" fill="none" stroke="#111" stroke-width="1.25" stroke-linejoin="round"/>
<path d="M742,295.5 L708,304.5 C700,307 695.5,311 695.5,316 C696,318.5 699,319 707,317.5 L742,309" fill="none" stroke="#111" stroke-width="1.0" stroke-linejoin="round"/>
<line x1="700.00" y1="315.30" x2="742.00" y2="300.50" stroke="#111" stroke-width="1.7"/>
<path d="M746.5,293.2 Q761.2,293.6 776.5,294.0" fill="none" stroke="#111" stroke-width="1.0" stroke-linejoin="round"/>
<path d="M746.5,305.3 Q761.2,291.9 776.5,280.4" fill="none" stroke="#111" stroke-width="1.0" stroke-linejoin="round"/>
<path d="M779.0,281.4 Q793.8,281.7 809.0,282.0" fill="none" stroke="#111" stroke-width="1.0" stroke-linejoin="round"/>
<path d="M779.0,293.0 Q793.8,279.8 809.0,268.6" fill="none" stroke="#111" stroke-width="1.0" stroke-linejoin="round"/>
<path d="M747.08,300.12 L762.18,294.62 L778.30,300.54 L763.21,306.04 Z" fill="#fff" stroke="#111" stroke-width="1.15" stroke-linejoin="round"/>
<path d="M763.21,306.04 L763.21,311.54 L778.30,306.04 L778.30,300.54" fill="#fff" stroke="#111" stroke-width="1.15" stroke-linejoin="round"/>
<path d="M777.27,289.12 L793.25,283.30 L809.37,289.22 L793.39,295.04 Z" fill="#fff" stroke="#111" stroke-width="1.15" stroke-linejoin="round"/>
<path d="M793.39,295.04 L793.39,300.54 L809.37,294.72 L809.37,289.22" fill="#fff" stroke="#111" stroke-width="1.15" stroke-linejoin="round"/>
<path d="M810.12,277.15 L826.10,271.33 L842.22,277.25 L826.24,283.07 Z" fill="#fff" stroke="#111" stroke-width="1.15" stroke-linejoin="round"/>
<path d="M826.24,283.07 L826.24,288.57 L842.22,282.75 L842.22,277.25" fill="#fff" stroke="#111" stroke-width="1.15" stroke-linejoin="round"/>
<path d="M827.87,270.68 L845.63,264.22 L861.75,270.13 L844.00,276.60 Z" fill="#fff" stroke="#111" stroke-width="1.15" stroke-linejoin="round"/>
<path d="M844.00,276.60 L844.00,282.10 L861.75,275.63 L861.75,270.13" fill="#fff" stroke="#111" stroke-width="1.15" stroke-linejoin="round"/>
<line x1="779.19" y1="300.72" x2="779.19" y2="305.22" stroke="#111" stroke-width="2.4"/>
<line x1="792.50" y1="295.86" x2="792.50" y2="300.36" stroke="#111" stroke-width="2.4"/>
<line x1="810.26" y1="289.39" x2="810.26" y2="293.89" stroke="#111" stroke-width="2.4"/>
<line x1="825.35" y1="283.90" x2="825.35" y2="288.40" stroke="#111" stroke-width="2.4"/>
<line x1="843.11" y1="277.43" x2="843.11" y2="281.93" stroke="#111" stroke-width="2.4"/>
<line x1="743.80" y1="289.20" x2="743.80" y2="308.30" stroke="#111" stroke-width="1.3"/>
<line x1="746.30" y1="289.70" x2="746.30" y2="307.80" stroke="#111" stroke-width="1.3"/>
<path d="M746.5,289.7 Q751.0,298.8 746.5,308.8" fill="none" stroke="#111" stroke-width="1.0" stroke-linejoin="round"/>
<ellipse cx="750.0" cy="306.3" rx="4.5" ry="1.9" fill="#666" stroke="#111" stroke-width="0.8" transform="rotate(-15 750.0 306.3)"/>
<line x1="776.30" y1="277.40" x2="776.30" y2="296.00" stroke="#111" stroke-width="1.3"/>
<line x1="778.80" y1="277.90" x2="778.80" y2="295.50" stroke="#111" stroke-width="1.3"/>
<path d="M779.0,277.9 Q783.5,286.7 779.0,296.5" fill="none" stroke="#111" stroke-width="1.0" stroke-linejoin="round"/>
<ellipse cx="782.5" cy="294.0" rx="4.5" ry="1.9" fill="#666" stroke="#111" stroke-width="0.8" transform="rotate(-15 782.5 294.0)"/>
<line x1="808.80" y1="265.60" x2="808.80" y2="284.00" stroke="#111" stroke-width="1.3"/>
<line x1="811.30" y1="266.10" x2="811.30" y2="283.50" stroke="#111" stroke-width="1.3"/>
<path d="M811.5,266.1 Q816.0,274.8 811.5,284.5" fill="none" stroke="#111" stroke-width="1.0" stroke-linejoin="round"/>
<ellipse cx="815.0" cy="282.0" rx="4.5" ry="1.9" fill="#666" stroke="#111" stroke-width="0.8" transform="rotate(-15 815.0 282.0)"/>
<path d="M477.98,268.01 L607.15,220.95 L767.11,279.65 L637.94,326.72 Z" fill="#fff" stroke="#111" stroke-width="1.2" stroke-linejoin="round"/>
<line x1="637.94" y1="328.22" x2="767.11" y2="281.15" stroke="#111" stroke-width="1.0"/>
<line x1="477.98" y1="268.01" x2="637.94" y2="326.72" stroke="#111" stroke-width="2.0"/>
<line x1="542.34" y1="244.56" x2="702.30" y2="303.27" stroke="#111" stroke-width="1.2"/></g>
<g transform="translate(0,646.1)"><line x1="222.10" y1="320.40" x2="669.30" y2="157.50" stroke="#111" stroke-width="1.25"/>
<line x1="225.40" y1="321.90" x2="669.30" y2="159.20" stroke="#111" stroke-width="1.25"/>
<line x1="669.30" y1="157.50" x2="925.00" y2="250.30" stroke="#111" stroke-width="1.25"/>
<line x1="669.30" y1="159.20" x2="921.90" y2="251.90" stroke="#111" stroke-width="1.25"/>
<line x1="222.10" y1="320.40" x2="225.40" y2="322.00" stroke="#111" stroke-width="1.1"/>
<line x1="921.90" y1="252.00" x2="925.00" y2="250.30" stroke="#111" stroke-width="1.1"/>
<line x1="222.10" y1="320.40" x2="222.10" y2="374.60" stroke="#111" stroke-width="1.3"/>
<line x1="225.40" y1="322.00" x2="225.40" y2="366.25" stroke="#111" stroke-width="1.3"/>
<line x1="669.30" y1="159.50" x2="669.30" y2="198.30" stroke="#111" stroke-width="1.3"/>
<line x1="921.90" y1="252.00" x2="921.90" y2="296.70" stroke="#111" stroke-width="1.3"/>
<line x1="925.00" y1="250.30" x2="925.00" y2="305.00" stroke="#111" stroke-width="1.3"/>
<path d="M225.40,366.25 L477.30,458.70 L921.90,296.70" fill="none" stroke="#111" stroke-width="1.3" stroke-linejoin="round"/>
<path d="M222.10,374.60 L477.30,467.30 L925.00,305.00" fill="none" stroke="#111" stroke-width="1.3" stroke-linejoin="round"/>
<line x1="477.30" y1="458.70" x2="477.30" y2="467.30" stroke="#111" stroke-width="1.3"/>
<line x1="225.40" y1="366.25" x2="285.77" y2="345.25" stroke="#111" stroke-width="1.3"/>
<line x1="861.75" y1="276.13" x2="921.90" y2="296.70" stroke="#111" stroke-width="1.3"/>
<line x1="285.77" y1="339.25" x2="669.30" y2="198.30" stroke="#111" stroke-width="1.3"/>
<line x1="669.30" y1="198.30" x2="861.75" y2="270.13" stroke="#111" stroke-width="1.3"/>
<line x1="478.22" y1="409.88" x2="861.75" y2="270.13" stroke="#111" stroke-width="1.3"/>
<line x1="478.22" y1="415.88" x2="861.75" y2="276.13" stroke="#111" stroke-width="1.3"/>
<line x1="285.77" y1="339.25" x2="478.22" y2="409.88" stroke="#111" stroke-width="1.3"/>
<line x1="285.77" y1="345.25" x2="478.22" y2="415.88" stroke="#111" stroke-width="1.3"/>
<line x1="285.77" y1="339.25" x2="285.77" y2="345.25" stroke="#111" stroke-width="1.3"/>
<line x1="478.22" y1="409.88" x2="478.22" y2="415.88" stroke="#111" stroke-width="1.3"/>
<line x1="861.75" y1="270.13" x2="861.75" y2="276.13" stroke="#111" stroke-width="1.3"/>
<line x1="369.22" y1="322.48" x2="496.62" y2="276.06" stroke="#111" stroke-width="2.2"/>
<path d="M369.84,329.56 L369.91,330.69 L369.80,331.85 L369.48,333.02 L368.97,334.19 L368.27,335.36 L367.38,336.51 L366.32,337.64 L365.09,338.74 L363.69,339.80 L362.15,340.81 L360.47,341.76 L358.67,342.65 L356.76,343.46 L354.75,344.20 L352.66,344.86 L350.51,345.43 L348.32,345.90 L346.09,346.28 L343.86,346.56 L341.63,346.73 L339.43,346.80 L337.26,346.77 L335.16,346.64 L333.12,346.40 L331.18,346.07 L329.34,345.63 L327.63,345.10 L326.04,344.48 L324.61,343.77 L323.33,342.99 L322.21,342.13 L321.27,341.20 L320.52,340.22 L319.95,339.18 L319.58,338.09 L319.40,336.98 L319.42,335.83 L319.64,334.67 L320.05,333.50 L320.66,332.32 L321.45,331.16 L322.43,330.02 L323.58,328.90 L324.89,327.82 L326.36,326.79 L327.97,325.81 L329.72,324.89 L331.57,324.04 L333.54,323.26 L335.59,322.56 L337.71,321.95 L339.88,321.43 L342.09,321.00 L344.32,320.67 L346.56,320.44 L348.78,320.32 L350.96,320.30 L353.10,320.38 L355.17,320.57 L357.16,320.85 L359.05,321.24 L360.83,321.72 L362.48,322.30 L363.99,322.96 L365.35,323.71 L366.55,324.53 L367.58,325.43 L368.43,326.38 L369.09,327.40 L369.56,328.46 L369.84,329.56 Z" fill="none" stroke="#111" stroke-width="1.25" stroke-linejoin="round"/>
<path d="M367.57,330.35 L367.62,331.28 L367.50,332.23 L367.20,333.20 L366.73,334.17 L366.08,335.14 L365.27,336.10 L364.30,337.04 L363.18,337.96 L361.91,338.85 L360.51,339.70 L358.99,340.50 L357.35,341.25 L355.62,341.95 L353.80,342.58 L351.92,343.15 L349.98,343.64 L348.00,344.06 L345.99,344.40 L343.97,344.65 L341.97,344.83 L339.98,344.92 L338.03,344.92 L336.14,344.83 L334.31,344.66 L332.57,344.41 L330.92,344.08 L329.38,343.66 L327.97,343.17 L326.68,342.61 L325.54,341.98 L324.55,341.29 L323.71,340.54 L323.05,339.74 L322.55,338.89 L322.23,338.00 L322.08,337.09 L322.12,336.14 L322.33,335.18 L322.71,334.22 L323.27,333.24 L324.00,332.28 L324.90,331.33 L325.94,330.40 L327.14,329.49 L328.48,328.62 L329.94,327.79 L331.52,327.02 L333.20,326.29 L334.98,325.63 L336.83,325.03 L338.75,324.50 L340.71,324.04 L342.71,323.66 L344.72,323.36 L346.73,323.15 L348.73,323.02 L350.70,322.97 L352.62,323.01 L354.48,323.14 L356.27,323.35 L357.97,323.65 L359.56,324.02 L361.04,324.47 L362.39,325.00 L363.61,325.60 L364.68,326.26 L365.59,326.98 L366.34,327.76 L366.92,328.58 L367.33,329.45 L367.57,330.35 Z" fill="none" stroke="#111" stroke-width="1.1" stroke-linejoin="round"/>
<path d="M365.79,331.06 L365.83,331.83 L365.70,332.61 L365.42,333.41 L364.97,334.21 L364.37,335.02 L363.62,335.82 L362.72,336.61 L361.68,337.38 L360.52,338.13 L359.23,338.84 L357.83,339.53 L356.33,340.17 L354.74,340.76 L353.08,341.31 L351.35,341.80 L349.58,342.24 L347.77,342.61 L345.94,342.91 L344.10,343.15 L342.27,343.33 L340.46,343.43 L338.68,343.46 L336.96,343.42 L335.30,343.30 L333.71,343.12 L332.22,342.87 L330.82,342.55 L329.54,342.17 L328.38,341.73 L327.35,341.23 L326.45,340.67 L325.71,340.07 L325.11,339.42 L324.67,338.73 L324.39,338.01 L324.27,337.26 L324.31,336.48 L324.52,335.69 L324.89,334.89 L325.41,334.08 L326.09,333.28 L326.91,332.49 L327.88,331.70 L328.99,330.95 L330.21,330.21 L331.56,329.51 L333.01,328.85 L334.55,328.23 L336.18,327.66 L337.88,327.14 L339.63,326.67 L341.42,326.27 L343.25,325.93 L345.08,325.66 L346.92,325.45 L348.74,325.31 L350.54,325.25 L352.29,325.25 L353.98,325.33 L355.60,325.48 L357.14,325.70 L358.59,325.98 L359.93,326.33 L361.16,326.74 L362.25,327.22 L363.22,327.74 L364.04,328.32 L364.71,328.95 L365.23,329.62 L365.59,330.33 L365.79,331.06 Z" fill="none" stroke="#111" stroke-width="0.8" stroke-linejoin="round"/>
<path d="M361.71,322.01 Q368.77,322.18 372.77,321.18" fill="none" stroke="#111" stroke-width="1.0" stroke-linejoin="round"/>
<path d="M369.00,334.14 Q373.77,326.18 374.27,320.68" fill="none" stroke="#111" stroke-width="1.0" stroke-linejoin="round"/>
<path d="M320.35,336.95 Q358.35,338.95 400.76,332.42" fill="none" stroke="#111" stroke-width="1.1" stroke-linejoin="round"/>
<path d="M321.35,339.95 Q358.35,341.95 401.76,334.92" fill="none" stroke="#111" stroke-width="1.1" stroke-linejoin="round"/>
<path d="M324.35,326.95 Q349.35,323.95 366.77,322.18" fill="none" stroke="#111" stroke-width="0.9" stroke-linejoin="round"/>
<line x1="319.50" y1="340.59" x2="372.77" y2="321.18" stroke="#111" stroke-width="2.4"/>
<line x1="401.21" y1="334.22" x2="528.61" y2="287.80" stroke="#111" stroke-width="2.2"/>
<path d="M401.83,341.30 L401.90,342.43 L401.79,343.59 L401.47,344.76 L400.96,345.93 L400.26,347.10 L399.37,348.25 L398.31,349.38 L397.08,350.48 L395.68,351.54 L394.14,352.55 L392.46,353.50 L390.66,354.39 L388.75,355.20 L386.74,355.94 L384.65,356.60 L382.50,357.17 L380.31,357.64 L378.08,358.02 L375.85,358.30 L373.62,358.47 L371.42,358.54 L369.25,358.51 L367.15,358.38 L365.11,358.14 L363.17,357.81 L361.33,357.37 L359.62,356.84 L358.03,356.22 L356.60,355.51 L355.32,354.73 L354.20,353.87 L353.26,352.94 L352.51,351.96 L351.94,350.92 L351.57,349.83 L351.39,348.72 L351.41,347.57 L351.63,346.41 L352.04,345.24 L352.65,344.06 L353.44,342.90 L354.42,341.76 L355.57,340.64 L356.88,339.56 L358.35,338.53 L359.96,337.55 L361.71,336.63 L363.56,335.78 L365.53,335.00 L367.58,334.30 L369.70,333.69 L371.87,333.17 L374.08,332.74 L376.31,332.41 L378.55,332.18 L380.77,332.06 L382.95,332.04 L385.09,332.12 L387.16,332.31 L389.15,332.59 L391.04,332.98 L392.82,333.46 L394.47,334.04 L395.98,334.70 L397.34,335.45 L398.54,336.27 L399.57,337.17 L400.42,338.12 L401.08,339.14 L401.55,340.20 L401.83,341.30 Z" fill="none" stroke="#111" stroke-width="1.25" stroke-linejoin="round"/>
<path d="M399.56,342.09 L399.61,343.02 L399.49,343.97 L399.19,344.94 L398.72,345.91 L398.07,346.88 L397.26,347.84 L396.29,348.78 L395.17,349.70 L393.90,350.59 L392.50,351.44 L390.98,352.24 L389.34,352.99 L387.61,353.69 L385.79,354.32 L383.91,354.89 L381.97,355.38 L379.99,355.80 L377.98,356.14 L375.96,356.39 L373.96,356.57 L371.97,356.66 L370.02,356.66 L368.13,356.57 L366.30,356.40 L364.56,356.15 L362.91,355.82 L361.37,355.40 L359.96,354.91 L358.67,354.35 L357.53,353.72 L356.54,353.03 L355.70,352.28 L355.04,351.48 L354.54,350.63 L354.22,349.74 L354.07,348.83 L354.11,347.88 L354.32,346.92 L354.70,345.96 L355.26,344.98 L355.99,344.02 L356.89,343.07 L357.93,342.14 L359.13,341.23 L360.47,340.36 L361.93,339.53 L363.51,338.76 L365.19,338.03 L366.97,337.37 L368.82,336.77 L370.74,336.24 L372.70,335.78 L374.70,335.40 L376.71,335.10 L378.72,334.89 L380.72,334.76 L382.69,334.71 L384.61,334.75 L386.47,334.88 L388.26,335.09 L389.96,335.39 L391.55,335.76 L393.03,336.21 L394.38,336.74 L395.60,337.34 L396.67,338.00 L397.58,338.72 L398.33,339.50 L398.91,340.32 L399.32,341.19 L399.56,342.09 Z" fill="none" stroke="#111" stroke-width="1.1" stroke-linejoin="round"/>
<path d="M397.78,342.80 L397.82,343.57 L397.69,344.35 L397.41,345.15 L396.96,345.95 L396.36,346.76 L395.61,347.56 L394.71,348.35 L393.67,349.12 L392.51,349.87 L391.22,350.58 L389.82,351.27 L388.32,351.91 L386.73,352.50 L385.07,353.05 L383.34,353.54 L381.57,353.98 L379.76,354.35 L377.93,354.65 L376.09,354.89 L374.26,355.07 L372.45,355.17 L370.67,355.20 L368.95,355.16 L367.29,355.04 L365.70,354.86 L364.21,354.61 L362.81,354.29 L361.53,353.91 L360.37,353.47 L359.34,352.97 L358.44,352.41 L357.70,351.81 L357.10,351.16 L356.66,350.47 L356.38,349.75 L356.26,349.00 L356.30,348.22 L356.51,347.43 L356.88,346.63 L357.40,345.82 L358.08,345.02 L358.90,344.23 L359.87,343.44 L360.98,342.69 L362.20,341.95 L363.55,341.25 L365.00,340.59 L366.54,339.97 L368.17,339.40 L369.87,338.88 L371.62,338.41 L373.41,338.01 L375.24,337.67 L377.07,337.40 L378.91,337.19 L380.73,337.05 L382.53,336.99 L384.28,336.99 L385.97,337.07 L387.59,337.22 L389.13,337.44 L390.58,337.72 L391.92,338.07 L393.15,338.48 L394.24,338.96 L395.21,339.48 L396.03,340.06 L396.70,340.69 L397.22,341.36 L397.58,342.07 L397.78,342.80 Z" fill="none" stroke="#111" stroke-width="0.8" stroke-linejoin="round"/>
<path d="M393.70,333.75 Q400.76,333.92 404.76,332.92" fill="none" stroke="#111" stroke-width="1.0" stroke-linejoin="round"/>
<path d="M400.99,345.88 Q405.76,337.92 406.26,332.42" fill="none" stroke="#111" stroke-width="1.0" stroke-linejoin="round"/>
<path d="M352.34,348.69 Q390.34,350.69 431.24,343.61" fill="none" stroke="#111" stroke-width="1.1" stroke-linejoin="round"/>
<path d="M353.34,351.69 Q390.34,353.69 432.24,346.11" fill="none" stroke="#111" stroke-width="1.1" stroke-linejoin="round"/>
<path d="M356.34,338.69 Q381.34,335.69 398.76,333.92" fill="none" stroke="#111" stroke-width="0.9" stroke-linejoin="round"/>
<line x1="351.49" y1="352.33" x2="404.76" y2="332.92" stroke="#111" stroke-width="2.4"/>
<line x1="431.69" y1="345.41" x2="559.09" y2="298.98" stroke="#111" stroke-width="2.2"/>
<path d="M432.31,352.48 L432.38,353.61 L432.27,354.77 L431.95,355.94 L431.44,357.11 L430.74,358.28 L429.85,359.43 L428.79,360.56 L427.56,361.66 L426.16,362.72 L424.62,363.73 L422.94,364.68 L421.14,365.57 L419.23,366.38 L417.22,367.12 L415.13,367.78 L412.98,368.35 L410.79,368.82 L408.56,369.20 L406.33,369.48 L404.10,369.65 L401.90,369.72 L399.73,369.69 L397.63,369.56 L395.59,369.32 L393.65,368.99 L391.81,368.55 L390.10,368.02 L388.51,367.40 L387.08,366.69 L385.80,365.91 L384.68,365.05 L383.74,364.12 L382.99,363.14 L382.42,362.10 L382.05,361.01 L381.87,359.90 L381.89,358.75 L382.11,357.59 L382.52,356.42 L383.13,355.24 L383.92,354.08 L384.90,352.94 L386.05,351.82 L387.36,350.74 L388.83,349.71 L390.44,348.73 L392.19,347.81 L394.04,346.96 L396.01,346.18 L398.06,345.48 L400.18,344.87 L402.35,344.35 L404.56,343.92 L406.79,343.59 L409.03,343.36 L411.25,343.24 L413.43,343.22 L415.57,343.30 L417.64,343.49 L419.63,343.77 L421.52,344.16 L423.30,344.64 L424.95,345.22 L426.46,345.88 L427.82,346.63 L429.02,347.45 L430.05,348.35 L430.90,349.30 L431.56,350.32 L432.03,351.38 L432.31,352.48 Z" fill="none" stroke="#111" stroke-width="1.25" stroke-linejoin="round"/>
<path d="M430.04,353.27 L430.09,354.20 L429.97,355.15 L429.67,356.12 L429.20,357.09 L428.55,358.06 L427.74,359.02 L426.77,359.96 L425.65,360.88 L424.38,361.77 L422.98,362.62 L421.46,363.42 L419.82,364.17 L418.09,364.87 L416.27,365.50 L414.39,366.07 L412.45,366.56 L410.47,366.98 L408.46,367.32 L406.44,367.57 L404.44,367.75 L402.45,367.84 L400.50,367.84 L398.61,367.75 L396.78,367.58 L395.04,367.33 L393.39,367.00 L391.85,366.58 L390.44,366.09 L389.15,365.53 L388.01,364.90 L387.02,364.21 L386.18,363.46 L385.52,362.66 L385.02,361.81 L384.70,360.92 L384.55,360.01 L384.59,359.06 L384.80,358.10 L385.18,357.14 L385.74,356.16 L386.47,355.20 L387.37,354.25 L388.41,353.32 L389.61,352.41 L390.95,351.54 L392.41,350.71 L393.99,349.94 L395.67,349.21 L397.45,348.55 L399.30,347.95 L401.22,347.42 L403.18,346.96 L405.18,346.58 L407.19,346.28 L409.20,346.07 L411.20,345.94 L413.17,345.89 L415.09,345.93 L416.95,346.06 L418.74,346.27 L420.44,346.57 L422.03,346.94 L423.51,347.39 L424.86,347.92 L426.08,348.52 L427.15,349.18 L428.06,349.90 L428.81,350.68 L429.39,351.50 L429.80,352.37 L430.04,353.27 Z" fill="none" stroke="#111" stroke-width="1.1" stroke-linejoin="round"/>
<path d="M428.26,353.98 L428.30,354.75 L428.17,355.53 L427.89,356.33 L427.44,357.13 L426.84,357.94 L426.09,358.74 L425.19,359.53 L424.15,360.30 L422.99,361.05 L421.70,361.76 L420.30,362.45 L418.80,363.09 L417.21,363.68 L415.55,364.23 L413.82,364.72 L412.05,365.16 L410.24,365.53 L408.41,365.83 L406.57,366.07 L404.74,366.25 L402.93,366.35 L401.15,366.38 L399.43,366.34 L397.77,366.22 L396.18,366.04 L394.69,365.79 L393.29,365.47 L392.01,365.09 L390.85,364.65 L389.82,364.15 L388.92,363.59 L388.18,362.99 L387.58,362.34 L387.14,361.65 L386.86,360.93 L386.74,360.18 L386.78,359.40 L386.99,358.61 L387.36,357.81 L387.88,357.00 L388.56,356.20 L389.38,355.41 L390.35,354.62 L391.46,353.87 L392.68,353.13 L394.03,352.43 L395.48,351.77 L397.02,351.15 L398.65,350.58 L400.35,350.06 L402.10,349.59 L403.89,349.19 L405.72,348.85 L407.55,348.58 L409.39,348.37 L411.21,348.23 L413.01,348.17 L414.76,348.17 L416.45,348.25 L418.07,348.40 L419.61,348.62 L421.06,348.90 L422.40,349.25 L423.63,349.66 L424.72,350.14 L425.69,350.66 L426.51,351.24 L427.18,351.87 L427.70,352.54 L428.06,353.25 L428.26,353.98 Z" fill="none" stroke="#111" stroke-width="0.8" stroke-linejoin="round"/>
<path d="M424.18,344.93 Q431.24,345.11 435.24,344.11" fill="none" stroke="#111" stroke-width="1.0" stroke-linejoin="round"/>
<path d="M431.47,357.06 Q436.24,349.11 436.74,343.61" fill="none" stroke="#111" stroke-width="1.0" stroke-linejoin="round"/>
<path d="M382.82,359.87 Q420.82,361.87 463.99,355.63" fill="none" stroke="#111" stroke-width="1.1" stroke-linejoin="round"/>
<path d="M383.82,362.87 Q420.82,364.87 464.99,358.13" fill="none" stroke="#111" stroke-width="1.1" stroke-linejoin="round"/>
<path d="M386.82,349.87 Q411.82,346.87 429.24,345.11" fill="none" stroke="#111" stroke-width="0.9" stroke-linejoin="round"/>
<line x1="381.97" y1="363.52" x2="435.24" y2="344.11" stroke="#111" stroke-width="2.4"/>
<line x1="464.44" y1="357.42" x2="591.84" y2="311.00" stroke="#111" stroke-width="2.2"/>
<path d="M465.05,364.50 L465.12,365.63 L465.01,366.79 L464.69,367.96 L464.18,369.13 L463.48,370.30 L462.59,371.45 L461.53,372.58 L460.30,373.68 L458.90,374.74 L457.36,375.75 L455.68,376.70 L453.88,377.59 L451.97,378.40 L449.96,379.14 L447.87,379.80 L445.72,380.37 L443.53,380.84 L441.30,381.22 L439.07,381.50 L436.84,381.67 L434.64,381.74 L432.47,381.71 L430.37,381.58 L428.33,381.34 L426.39,381.01 L424.55,380.57 L422.84,380.04 L421.25,379.42 L419.82,378.71 L418.54,377.93 L417.42,377.07 L416.48,376.14 L415.73,375.16 L415.16,374.12 L414.79,373.03 L414.61,371.92 L414.63,370.77 L414.85,369.61 L415.26,368.44 L415.87,367.26 L416.66,366.10 L417.64,364.96 L418.79,363.84 L420.10,362.76 L421.57,361.73 L423.18,360.75 L424.93,359.83 L426.78,358.98 L428.75,358.20 L430.80,357.50 L432.92,356.89 L435.09,356.37 L437.30,355.94 L439.53,355.61 L441.77,355.38 L443.99,355.26 L446.17,355.24 L448.31,355.32 L450.38,355.51 L452.37,355.79 L454.26,356.18 L456.04,356.66 L457.69,357.24 L459.20,357.90 L460.56,358.65 L461.76,359.47 L462.79,360.37 L463.64,361.32 L464.30,362.34 L464.77,363.40 L465.05,364.50 Z" fill="none" stroke="#111" stroke-width="1.25" stroke-linejoin="round"/>
<path d="M462.78,365.29 L462.83,366.22 L462.71,367.17 L462.41,368.14 L461.94,369.11 L461.29,370.08 L460.48,371.04 L459.51,371.98 L458.39,372.90 L457.12,373.79 L455.72,374.64 L454.20,375.44 L452.56,376.19 L450.83,376.89 L449.01,377.52 L447.13,378.09 L445.19,378.58 L443.21,379.00 L441.20,379.34 L439.18,379.59 L437.18,379.77 L435.19,379.86 L433.24,379.86 L431.35,379.77 L429.52,379.60 L427.78,379.35 L426.13,379.02 L424.59,378.60 L423.18,378.11 L421.89,377.55 L420.75,376.92 L419.76,376.23 L418.92,375.48 L418.26,374.68 L417.76,373.83 L417.44,372.94 L417.29,372.03 L417.33,371.08 L417.54,370.12 L417.92,369.16 L418.48,368.18 L419.21,367.22 L420.11,366.27 L421.15,365.34 L422.35,364.43 L423.69,363.56 L425.15,362.73 L426.73,361.96 L428.41,361.23 L430.19,360.57 L432.04,359.97 L433.96,359.44 L435.92,358.98 L437.92,358.60 L439.93,358.30 L441.94,358.09 L443.94,357.96 L445.91,357.91 L447.83,357.95 L449.69,358.08 L451.48,358.29 L453.18,358.59 L454.77,358.96 L456.25,359.41 L457.60,359.94 L458.82,360.54 L459.89,361.20 L460.80,361.92 L461.55,362.70 L462.13,363.52 L462.54,364.39 L462.78,365.29 Z" fill="none" stroke="#111" stroke-width="1.1" stroke-linejoin="round"/>
<path d="M461.00,366.00 L461.04,366.77 L460.91,367.55 L460.63,368.35 L460.18,369.15 L459.58,369.96 L458.83,370.76 L457.93,371.55 L456.89,372.32 L455.73,373.07 L454.44,373.78 L453.04,374.47 L451.54,375.11 L449.95,375.70 L448.29,376.25 L446.56,376.74 L444.79,377.18 L442.98,377.55 L441.15,377.85 L439.31,378.09 L437.48,378.27 L435.67,378.37 L433.89,378.40 L432.17,378.36 L430.51,378.24 L428.92,378.06 L427.43,377.81 L426.03,377.49 L424.75,377.11 L423.59,376.67 L422.56,376.17 L421.66,375.61 L420.92,375.01 L420.32,374.36 L419.88,373.67 L419.60,372.95 L419.48,372.20 L419.52,371.42 L419.73,370.63 L420.10,369.83 L420.62,369.02 L421.30,368.22 L422.12,367.43 L423.09,366.64 L424.20,365.89 L425.42,365.15 L426.77,364.45 L428.22,363.79 L429.76,363.17 L431.39,362.60 L433.09,362.08 L434.84,361.61 L436.63,361.21 L438.46,360.87 L440.29,360.60 L442.13,360.39 L443.95,360.25 L445.75,360.19 L447.50,360.19 L449.19,360.27 L450.81,360.42 L452.35,360.64 L453.80,360.92 L455.14,361.27 L456.37,361.68 L457.46,362.16 L458.43,362.68 L459.25,363.26 L459.92,363.89 L460.44,364.56 L460.80,365.27 L461.00,366.00 Z" fill="none" stroke="#111" stroke-width="0.8" stroke-linejoin="round"/>
<path d="M456.92,356.95 Q463.99,357.13 467.99,356.13" fill="none" stroke="#111" stroke-width="1.0" stroke-linejoin="round"/>
<path d="M464.21,369.08 Q468.99,361.13 469.49,355.63" fill="none" stroke="#111" stroke-width="1.0" stroke-linejoin="round"/>
<path d="M415.56,371.89 Q453.56,373.89 496.23,367.46" fill="none" stroke="#111" stroke-width="1.1" stroke-linejoin="round"/>
<path d="M416.56,374.89 Q453.56,376.89 497.23,369.96" fill="none" stroke="#111" stroke-width="1.1" stroke-linejoin="round"/>
<path d="M419.56,361.89 Q444.56,358.89 461.99,357.13" fill="none" stroke="#111" stroke-width="0.9" stroke-linejoin="round"/>
<line x1="414.72" y1="375.54" x2="467.99" y2="356.13" stroke="#111" stroke-width="2.4"/>
<line x1="496.68" y1="369.26" x2="624.08" y2="322.84" stroke="#111" stroke-width="2.2"/>
<path d="M497.30,376.33 L497.37,377.46 L497.26,378.62 L496.94,379.79 L496.43,380.96 L495.73,382.13 L494.84,383.28 L493.78,384.41 L492.55,385.51 L491.15,386.57 L489.61,387.58 L487.93,388.53 L486.13,389.42 L484.22,390.23 L482.21,390.97 L480.12,391.63 L477.97,392.20 L475.78,392.67 L473.55,393.05 L471.32,393.33 L469.09,393.50 L466.89,393.57 L464.72,393.54 L462.62,393.41 L460.58,393.17 L458.64,392.84 L456.80,392.40 L455.09,391.87 L453.50,391.25 L452.07,390.54 L450.79,389.76 L449.67,388.90 L448.73,387.97 L447.98,386.99 L447.41,385.95 L447.04,384.86 L446.86,383.75 L446.88,382.60 L447.10,381.44 L447.51,380.27 L448.12,379.09 L448.91,377.93 L449.89,376.79 L451.04,375.67 L452.35,374.59 L453.82,373.56 L455.43,372.58 L457.18,371.66 L459.03,370.81 L461.00,370.03 L463.05,369.33 L465.17,368.72 L467.34,368.20 L469.55,367.77 L471.78,367.44 L474.02,367.21 L476.24,367.09 L478.42,367.07 L480.56,367.15 L482.63,367.34 L484.62,367.62 L486.51,368.01 L488.29,368.49 L489.94,369.07 L491.45,369.73 L492.81,370.48 L494.01,371.30 L495.04,372.20 L495.89,373.15 L496.55,374.17 L497.02,375.23 L497.30,376.33 Z" fill="none" stroke="#111" stroke-width="1.25" stroke-linejoin="round"/>
<path d="M495.03,377.12 L495.08,378.05 L494.96,379.00 L494.66,379.97 L494.19,380.94 L493.54,381.91 L492.73,382.87 L491.76,383.81 L490.64,384.73 L489.37,385.62 L487.97,386.47 L486.45,387.27 L484.81,388.02 L483.08,388.72 L481.26,389.35 L479.38,389.92 L477.44,390.41 L475.46,390.83 L473.45,391.17 L471.43,391.42 L469.43,391.60 L467.44,391.69 L465.49,391.69 L463.60,391.60 L461.77,391.43 L460.03,391.18 L458.38,390.85 L456.84,390.43 L455.43,389.94 L454.14,389.38 L453.00,388.75 L452.01,388.06 L451.17,387.31 L450.51,386.51 L450.01,385.66 L449.69,384.77 L449.54,383.86 L449.58,382.91 L449.79,381.95 L450.17,380.99 L450.73,380.01 L451.46,379.05 L452.36,378.10 L453.40,377.17 L454.60,376.26 L455.94,375.39 L457.40,374.56 L458.98,373.79 L460.66,373.06 L462.44,372.40 L464.29,371.80 L466.21,371.27 L468.17,370.81 L470.17,370.43 L472.18,370.13 L474.19,369.92 L476.19,369.79 L478.16,369.74 L480.08,369.78 L481.94,369.91 L483.73,370.12 L485.43,370.42 L487.02,370.79 L488.50,371.24 L489.85,371.77 L491.07,372.37 L492.14,373.03 L493.05,373.75 L493.80,374.53 L494.38,375.35 L494.79,376.22 L495.03,377.12 Z" fill="none" stroke="#111" stroke-width="1.1" stroke-linejoin="round"/>
<path d="M493.25,377.83 L493.29,378.60 L493.16,379.38 L492.88,380.18 L492.43,380.98 L491.83,381.79 L491.08,382.59 L490.18,383.38 L489.14,384.15 L487.98,384.90 L486.69,385.61 L485.29,386.30 L483.79,386.94 L482.20,387.53 L480.54,388.08 L478.81,388.57 L477.04,389.01 L475.23,389.38 L473.40,389.68 L471.56,389.92 L469.73,390.10 L467.92,390.20 L466.14,390.23 L464.42,390.19 L462.76,390.07 L461.17,389.89 L459.68,389.64 L458.28,389.32 L457.00,388.94 L455.84,388.50 L454.81,388.00 L453.91,387.44 L453.17,386.84 L452.57,386.19 L452.13,385.50 L451.85,384.78 L451.73,384.03 L451.77,383.25 L451.98,382.46 L452.35,381.66 L452.87,380.85 L453.55,380.05 L454.37,379.26 L455.34,378.47 L456.45,377.72 L457.67,376.98 L459.02,376.28 L460.47,375.62 L462.01,375.00 L463.64,374.43 L465.34,373.91 L467.09,373.44 L468.88,373.04 L470.71,372.70 L472.54,372.43 L474.38,372.22 L476.20,372.08 L478.00,372.02 L479.75,372.02 L481.44,372.10 L483.06,372.25 L484.60,372.47 L486.05,372.75 L487.39,373.10 L488.62,373.51 L489.71,373.99 L490.68,374.51 L491.50,375.09 L492.17,375.72 L492.69,376.39 L493.05,377.10 L493.25,377.83 Z" fill="none" stroke="#111" stroke-width="0.8" stroke-linejoin="round"/>
<path d="M489.17,368.78 Q496.23,368.96 500.23,367.96" fill="none" stroke="#111" stroke-width="1.0" stroke-linejoin="round"/>
<path d="M496.46,380.91 Q501.23,372.96 501.73,367.46" fill="none" stroke="#111" stroke-width="1.0" stroke-linejoin="round"/>
<path d="M447.81,383.72 Q485.81,385.72 525.45,378.19" fill="none" stroke="#111" stroke-width="1.1" stroke-linejoin="round"/>
<path d="M448.81,386.72 Q485.81,388.72 526.45,380.69" fill="none" stroke="#111" stroke-width="1.1" stroke-linejoin="round"/>
<path d="M451.81,373.72 Q476.81,370.72 494.23,368.96" fill="none" stroke="#111" stroke-width="0.9" stroke-linejoin="round"/>
<line x1="446.96" y1="387.37" x2="500.23" y2="367.96" stroke="#111" stroke-width="2.4"/>
<line x1="524.14" y1="379.33" x2="694.15" y2="317.38" stroke="#111" stroke-width="1.0"/>
<line x1="527.67" y1="380.63" x2="697.68" y2="318.68" stroke="#111" stroke-width="1.0"/>
<path d="M526.52,387.06 L526.59,388.19 L526.48,389.35 L526.16,390.52 L525.65,391.69 L524.95,392.86 L524.06,394.01 L523.00,395.14 L521.77,396.24 L520.37,397.30 L518.83,398.31 L517.15,399.26 L515.35,400.15 L513.44,400.96 L511.43,401.70 L509.34,402.36 L507.19,402.93 L505.00,403.40 L502.77,403.78 L500.54,404.06 L498.31,404.23 L496.11,404.30 L493.94,404.27 L491.84,404.14 L489.80,403.90 L487.86,403.57 L486.02,403.13 L484.31,402.60 L482.72,401.98 L481.29,401.27 L480.01,400.49 L478.89,399.63 L477.95,398.70 L477.20,397.72 L476.63,396.68 L476.26,395.59 L476.08,394.48 L476.10,393.33 L476.32,392.17 L476.73,391.00 L477.34,389.82 L478.13,388.66 L479.11,387.52 L480.26,386.40 L481.57,385.32 L483.04,384.29 L484.65,383.31 L486.40,382.39 L488.25,381.54 L490.22,380.76 L492.27,380.06 L494.39,379.45 L496.56,378.93 L498.77,378.50 L501.00,378.17 L503.24,377.94 L505.46,377.82 L507.64,377.80 L509.78,377.88 L511.85,378.07 L513.84,378.35 L515.73,378.74 L517.51,379.22 L519.16,379.80 L520.67,380.46 L522.03,381.21 L523.23,382.03 L524.26,382.93 L525.11,383.88 L525.77,384.90 L526.24,385.96 L526.52,387.06 Z" fill="none" stroke="#111" stroke-width="1.25" stroke-linejoin="round"/>
<path d="M524.25,387.85 L524.30,388.78 L524.18,389.73 L523.88,390.70 L523.41,391.67 L522.76,392.64 L521.95,393.60 L520.98,394.54 L519.86,395.46 L518.59,396.35 L517.19,397.20 L515.67,398.00 L514.03,398.75 L512.30,399.45 L510.48,400.08 L508.60,400.65 L506.66,401.14 L504.68,401.56 L502.67,401.90 L500.65,402.15 L498.65,402.33 L496.66,402.42 L494.71,402.42 L492.82,402.33 L490.99,402.16 L489.25,401.91 L487.60,401.58 L486.06,401.16 L484.65,400.67 L483.36,400.11 L482.22,399.48 L481.23,398.79 L480.39,398.04 L479.73,397.24 L479.23,396.39 L478.91,395.50 L478.76,394.59 L478.80,393.64 L479.01,392.68 L479.39,391.72 L479.95,390.74 L480.68,389.78 L481.58,388.83 L482.62,387.90 L483.82,386.99 L485.16,386.12 L486.62,385.29 L488.20,384.52 L489.88,383.79 L491.66,383.13 L493.51,382.53 L495.43,382.00 L497.39,381.54 L499.39,381.16 L501.40,380.86 L503.41,380.65 L505.41,380.52 L507.38,380.47 L509.30,380.51 L511.16,380.64 L512.95,380.85 L514.65,381.15 L516.24,381.52 L517.72,381.97 L519.07,382.50 L520.29,383.10 L521.36,383.76 L522.27,384.48 L523.02,385.26 L523.60,386.08 L524.01,386.95 L524.25,387.85 Z" fill="none" stroke="#111" stroke-width="1.1" stroke-linejoin="round"/>
<path d="M522.47,388.56 L522.51,389.33 L522.38,390.11 L522.10,390.91 L521.65,391.71 L521.05,392.52 L520.30,393.32 L519.40,394.11 L518.36,394.88 L517.20,395.63 L515.91,396.34 L514.51,397.03 L513.01,397.67 L511.42,398.26 L509.76,398.81 L508.03,399.30 L506.26,399.74 L504.45,400.11 L502.62,400.41 L500.78,400.65 L498.95,400.83 L497.14,400.93 L495.36,400.96 L493.64,400.92 L491.98,400.80 L490.39,400.62 L488.90,400.37 L487.50,400.05 L486.22,399.67 L485.06,399.23 L484.03,398.73 L483.13,398.17 L482.39,397.57 L481.79,396.92 L481.35,396.23 L481.07,395.51 L480.95,394.76 L480.99,393.98 L481.20,393.19 L481.57,392.39 L482.09,391.58 L482.77,390.78 L483.59,389.99 L484.56,389.20 L485.67,388.45 L486.89,387.71 L488.24,387.01 L489.69,386.35 L491.23,385.73 L492.86,385.16 L494.56,384.64 L496.31,384.17 L498.10,383.77 L499.93,383.43 L501.76,383.16 L503.60,382.95 L505.42,382.81 L507.22,382.75 L508.97,382.75 L510.66,382.83 L512.28,382.98 L513.82,383.20 L515.27,383.48 L516.61,383.83 L517.84,384.24 L518.93,384.72 L519.90,385.24 L520.72,385.82 L521.39,386.45 L521.91,387.12 L522.27,387.83 L522.47,388.56 Z" fill="none" stroke="#111" stroke-width="0.8" stroke-linejoin="round"/>
<path d="M518.39,379.51 Q525.45,379.69 529.45,378.69" fill="none" stroke="#111" stroke-width="1.0" stroke-linejoin="round"/>
<path d="M525.68,391.64 Q530.45,383.69 530.95,378.19" fill="none" stroke="#111" stroke-width="1.0" stroke-linejoin="round"/>
<line x1="476.19" y1="398.10" x2="529.45" y2="378.69" stroke="#111" stroke-width="2.4"/>
<path d="M459.7,402.5 L459.7,407.5 Q461.7,409.5 463.7,407.5 L463.7,402.5" fill="none" stroke="#111" stroke-width="1.1" stroke-linejoin="round"/>
<path d="M489.7,403.5 L489.7,408.5 Q491.7,410.5 493.7,408.5 L493.7,403.5" fill="none" stroke="#111" stroke-width="1.1" stroke-linejoin="round"/>
<path d="M270.29,361.95 L303.13,349.98 L301.15,344.54 L268.31,356.51 Z" fill="#fff" stroke="none"/>
<line x1="270.29" y1="361.95" x2="303.13" y2="349.98" stroke="#111" stroke-width="1.2"/>
<line x1="268.31" y1="356.51" x2="301.15" y2="344.54" stroke="#111" stroke-width="1.2"/>
<ellipse cx="269.30" cy="359.23" rx="2.90" ry="2.0" fill="#fff" stroke="#111" stroke-width="1.2" transform="rotate(70.0 269.30 359.23)"/>
<line x1="302.14" y1="345.26" x2="317.24" y2="339.76" stroke="#111" stroke-width="2.0"/>
<line x1="296.60" y1="343.23" x2="296.60" y2="348.23" stroke="#111" stroke-width="1.1"/>
<line x1="307.69" y1="347.30" x2="307.69" y2="352.30" stroke="#111" stroke-width="1.1"/>
<path d="M303.03,373.97 L335.88,362.00 L333.90,356.56 L301.05,368.53 Z" fill="#fff" stroke="none"/>
<line x1="303.03" y1="373.97" x2="335.88" y2="362.00" stroke="#111" stroke-width="1.2"/>
<line x1="301.05" y1="368.53" x2="333.90" y2="356.56" stroke="#111" stroke-width="1.2"/>
<ellipse cx="302.04" cy="371.25" rx="2.90" ry="2.0" fill="#fff" stroke="#111" stroke-width="1.2" transform="rotate(70.0 302.04 371.25)"/>
<line x1="334.89" y1="357.28" x2="349.98" y2="351.78" stroke="#111" stroke-width="2.0"/>
<line x1="329.35" y1="355.25" x2="329.35" y2="360.25" stroke="#111" stroke-width="1.1"/>
<line x1="340.43" y1="359.31" x2="340.43" y2="364.31" stroke="#111" stroke-width="1.1"/>
<path d="M335.28,385.80 L368.12,373.83 L366.14,368.39 L333.30,380.36 Z" fill="#fff" stroke="none"/>
<line x1="335.28" y1="385.80" x2="368.12" y2="373.83" stroke="#111" stroke-width="1.2"/>
<line x1="333.30" y1="380.36" x2="366.14" y2="368.39" stroke="#111" stroke-width="1.2"/>
<ellipse cx="334.29" cy="383.08" rx="2.90" ry="2.0" fill="#fff" stroke="#111" stroke-width="1.2" transform="rotate(70.0 334.29 383.08)"/>
<line x1="367.13" y1="369.11" x2="382.23" y2="363.61" stroke="#111" stroke-width="2.0"/>
<line x1="361.59" y1="367.08" x2="361.59" y2="372.08" stroke="#111" stroke-width="1.1"/>
<line x1="372.68" y1="371.15" x2="372.68" y2="376.15" stroke="#111" stroke-width="1.1"/>
<path d="M366.51,397.27 L399.36,385.30 L397.38,379.86 L364.53,391.83 Z" fill="#fff" stroke="none"/>
<line x1="366.51" y1="397.27" x2="399.36" y2="385.30" stroke="#111" stroke-width="1.2"/>
<line x1="364.53" y1="391.83" x2="397.38" y2="379.86" stroke="#111" stroke-width="1.2"/>
<ellipse cx="365.52" cy="394.55" rx="2.90" ry="2.0" fill="#fff" stroke="#111" stroke-width="1.2" transform="rotate(70.0 365.52 394.55)"/>
<line x1="398.37" y1="380.58" x2="413.46" y2="375.08" stroke="#111" stroke-width="2.0"/>
<line x1="392.83" y1="378.54" x2="392.83" y2="383.54" stroke="#111" stroke-width="1.1"/>
<line x1="403.91" y1="382.61" x2="403.91" y2="387.61" stroke="#111" stroke-width="1.1"/>
<path d="M398.75,409.10 L431.60,397.13 L429.62,391.69 L396.77,403.66 Z" fill="#fff" stroke="none"/>
<line x1="398.75" y1="409.10" x2="431.60" y2="397.13" stroke="#111" stroke-width="1.2"/>
<line x1="396.77" y1="403.66" x2="429.62" y2="391.69" stroke="#111" stroke-width="1.2"/>
<ellipse cx="397.76" cy="406.38" rx="2.90" ry="2.0" fill="#fff" stroke="#111" stroke-width="1.2" transform="rotate(70.0 397.76 406.38)"/>
<line x1="430.61" y1="392.41" x2="445.71" y2="386.91" stroke="#111" stroke-width="2.0"/>
<line x1="425.07" y1="390.38" x2="425.07" y2="395.38" stroke="#111" stroke-width="1.1"/>
<line x1="436.15" y1="394.44" x2="436.15" y2="399.44" stroke="#111" stroke-width="1.1"/>
<line x1="766.41" y1="279.42" x2="829.00" y2="258.11" stroke="#111" stroke-width="1.4"/>
<path d="M747.89,288.41 L763.43,282.75 L776.53,287.55 L760.99,293.21 Z" fill="#fff" stroke="#111" stroke-width="1.15" stroke-linejoin="round"/>
<path d="M780.74,276.44 L796.28,270.78 L809.37,275.58 L793.84,281.24 Z" fill="#fff" stroke="#111" stroke-width="1.15" stroke-linejoin="round"/>
<path d="M813.14,264.63 L830.01,258.48 L843.11,263.29 L826.24,269.44 Z" fill="#fff" stroke="#111" stroke-width="1.15" stroke-linejoin="round"/>
<path d="M742.7,292.5 L706,302 C697,304.5 691,310 691.5,317 C692,321.5 697,322 706,320 L742.7,311.5" fill="none" stroke="#111" stroke-width="1.25" stroke-linejoin="round"/>
<path d="M742,295.5 L708,304.5 C700,307 695.5,311 695.5,316 C696,318.5 699,319 707,317.5 L742,309" fill="none" stroke="#111" stroke-width="1.0" stroke-linejoin="round"/>
<line x1="700.00" y1="315.30" x2="742.00" y2="300.50" stroke="#111" stroke-width="1.7"/>
<path d="M746.5,293.2 Q761.2,293.6 776.5,294.0" fill="none" stroke="#111" stroke-width="1.0" stroke-linejoin="round"/>
<path d="M746.5,305.3 Q761.2,291.9 776.5,280.4" fill="none" stroke="#111" stroke-width="1.0" stroke-linejoin="round"/>
<path d="M779.0,281.4 Q793.8,281.7 809.0,282.0" fill="none" stroke="#111" stroke-width="1.0" stroke-linejoin="round"/>
<path d="M779.0,293.0 Q793.8,279.8 809.0,268.6" fill="none" stroke="#111" stroke-width="1.0" stroke-linejoin="round"/>
<path d="M747.08,300.12 L762.18,294.62 L778.30,300.54 L763.21,306.04 Z" fill="#fff" stroke="#111" stroke-width="1.15" stroke-linejoin="round"/>
<path d="M763.21,306.04 L763.21,311.54 L778.30,306.04 L778.30,300.54" fill="#fff" stroke="#111" stroke-width="1.15" stroke-linejoin="round"/>
<path d="M777.27,289.12 L793.25,283.30 L809.37,289.22 L793.39,295.04 Z" fill="#fff" stroke="#111" stroke-width="1.15" stroke-linejoin="round"/>
<path d="M793.39,295.04 L793.39,300.54 L809.37,294.72 L809.37,289.22" fill="#fff" stroke="#111" stroke-width="1.15" stroke-linejoin="round"/>
<path d="M810.12,277.15 L826.10,271.33 L842.22,277.25 L826.24,283.07 Z" fill="#fff" stroke="#111" stroke-width="1.15" stroke-linejoin="round"/>
<path d="M826.24,283.07 L826.24,288.57 L842.22,282.75 L842.22,277.25" fill="#fff" stroke="#111" stroke-width="1.15" stroke-linejoin="round"/>
<path d="M827.87,270.68 L845.63,264.22 L861.75,270.13 L844.00,276.60 Z" fill="#fff" stroke="#111" stroke-width="1.15" stroke-linejoin="round"/>
<path d="M844.00,276.60 L844.00,282.10 L861.75,275.63 L861.75,270.13" fill="#fff" stroke="#111" stroke-width="1.15" stroke-linejoin="round"/>
<line x1="779.19" y1="300.72" x2="779.19" y2="305.22" stroke="#111" stroke-width="2.4"/>
<line x1="792.50" y1="295.86" x2="792.50" y2="300.36" stroke="#111" stroke-width="2.4"/>
<line x1="810.26" y1="289.39" x2="810.26" y2="293.89" stroke="#111" stroke-width="2.4"/>
<line x1="825.35" y1="283.90" x2="825.35" y2="288.40" stroke="#111" stroke-width="2.4"/>
<line x1="843.11" y1="277.43" x2="843.11" y2="281.93" stroke="#111" stroke-width="2.4"/>
<line x1="743.80" y1="289.20" x2="743.80" y2="308.30" stroke="#111" stroke-width="1.3"/>
<line x1="746.30" y1="289.70" x2="746.30" y2="307.80" stroke="#111" stroke-width="1.3"/>
<path d="M746.5,289.7 Q751.0,298.8 746.5,308.8" fill="none" stroke="#111" stroke-width="1.0" stroke-linejoin="round"/>
<ellipse cx="750.0" cy="306.3" rx="4.5" ry="1.9" fill="#666" stroke="#111" stroke-width="0.8" transform="rotate(-15 750.0 306.3)"/>
<line x1="776.30" y1="277.40" x2="776.30" y2="296.00" stroke="#111" stroke-width="1.3"/>
<line x1="778.80" y1="277.90" x2="778.80" y2="295.50" stroke="#111" stroke-width="1.3"/>
<path d="M779.0,277.9 Q783.5,286.7 779.0,296.5" fill="none" stroke="#111" stroke-width="1.0" stroke-linejoin="round"/>
<ellipse cx="782.5" cy="294.0" rx="4.5" ry="1.9" fill="#666" stroke="#111" stroke-width="0.8" transform="rotate(-15 782.5 294.0)"/>
<line x1="808.80" y1="265.60" x2="808.80" y2="284.00" stroke="#111" stroke-width="1.3"/>
<line x1="811.30" y1="266.10" x2="811.30" y2="283.50" stroke="#111" stroke-width="1.3"/>
<path d="M811.5,266.1 Q816.0,274.8 811.5,284.5" fill="none" stroke="#111" stroke-width="1.0" stroke-linejoin="round"/>
<ellipse cx="815.0" cy="282.0" rx="4.5" ry="1.9" fill="#666" stroke="#111" stroke-width="0.8" transform="rotate(-15 815.0 282.0)"/>
<path d="M477.98,267.21 L669.30,197.50 L829.00,256.11 L637.68,325.83 Z" fill="#fff" stroke="#111" stroke-width="1.2" stroke-linejoin="round"/>
<line x1="477.98" y1="267.21" x2="637.68" y2="325.83" stroke="#111" stroke-width="2.0"/>
<line x1="637.68" y1="327.33" x2="829.00" y2="257.61" stroke="#111" stroke-width="1.0"/>
<path d="M538.35,243.72 L669.30,196.00 L801.55,244.54 L670.60,292.25 Z" fill="#fff" stroke="#111" stroke-width="1.2" stroke-linejoin="round"/>
<line x1="538.35" y1="243.72" x2="670.60" y2="292.25" stroke="#111" stroke-width="2.0"/>
<line x1="670.60" y1="293.75" x2="801.55" y2="246.04" stroke="#111" stroke-width="1.0"/>
<line x1="603.60" y1="219.94" x2="735.85" y2="268.48" stroke="#111" stroke-width="2.0"/>
<line x1="604.60" y1="268.03" x2="735.55" y2="220.31" stroke="#111" stroke-width="2.0"/></g>
<g><g transform="translate(818.20,105.25) scale(1.2887,1.42)" fill="none" stroke="#111" stroke-width="1.55" stroke-linecap="round" stroke-linejoin="round"><path transform="translate(0.00,0)" d="M0,0 V-10 H4.3 Q6.5,-10 6.5,-7.8 V-7 Q6.5,-4.8 4.3,-4.8 H0 M3.8,-4.8 L6.6,0" vector-effect="non-scaling-stroke"/><path transform="translate(9.90,0)" d="M0.6,-6.6 Q1.2,-7 2,-7 H3.8 Q5.5,-7 5.5,-5.3 V0 M5.5,-3.9 H1.6 Q0,-3.9 0,-2.3 V-1.5 Q0,0 1.6,0 H3.6 Q4.9,0 5.5,-1.2" vector-effect="non-scaling-stroke"/><path transform="translate(18.70,0)" d="M0,-7 V0 M0,-5.6 Q0.9,-7 2.6,-7 H3.8 Q5.5,-7 5.5,-5.3 V0" vector-effect="non-scaling-stroke"/><path transform="translate(27.50,0)" d="M5.5,-10 V0 M5.5,-1.4 Q4.6,0 3,0 H1.8 Q0,0 0,-1.8 V-5.2 Q0,-7 1.8,-7 H3 Q4.6,-7 5.5,-5.6" vector-effect="non-scaling-stroke"/><path transform="translate(36.30,0)" d="M5.5,-10 V0 M5.5,-1.4 Q4.6,0 3,0 H1.8 Q0,0 0,-1.8 V-5.2 Q0,-7 1.8,-7 H3 Q4.6,-7 5.5,-5.6" vector-effect="non-scaling-stroke"/><path transform="translate(45.10,0)" d="M0.6,-6.6 Q1.2,-7 2,-7 H3.8 Q5.5,-7 5.5,-5.3 V0 M5.5,-3.9 H1.6 Q0,-3.9 0,-2.3 V-1.5 Q0,0 1.6,0 H3.6 Q4.9,0 5.5,-1.2 M1.54,-9.1 V-8.6 M3.96,-9.1 V-8.6" vector-effect="non-scaling-stroke"/><path transform="translate(53.90,0)" d="M0,-7 V0 M0,-5.8 Q0.6,-7 1.9,-7 Q3.5,-7 3.5,-5.5 V0 M3.5,-5.6 Q4.1,-7 5.4,-7 Q7,-7 7,-5.5 V0" vector-effect="non-scaling-stroke"/><path transform="translate(64.20,0)" d="M0,-7 V0 M0,-5.8 Q0.6,-7 1.9,-7 Q3.5,-7 3.5,-5.5 V0 M3.5,-5.6 Q4.1,-7 5.4,-7 Q7,-7 7,-5.5 V0" vector-effect="non-scaling-stroke"/><path transform="translate(74.50,0)" d="M5.3,-6.2 Q4.7,-7 3.4,-7 H2 Q0.2,-7 0.2,-5.3 Q0.2,-3.9 1.9,-3.7 L3.7,-3.4 Q5.5,-3.1 5.5,-1.6 Q5.5,0 3.6,0 H2 Q0.6,0 0,-0.9" vector-effect="non-scaling-stroke"/><path transform="translate(83.30,0)" d="M1.3,-9.3 V-1.3 Q1.3,0 2.6,0 H3.6 M0,-7 H3.6" vector-effect="non-scaling-stroke"/><path transform="translate(90.20,0)" d="M0,-7 V0 M0,-5.2 Q1,-7 2.9,-7 H4" vector-effect="non-scaling-stroke"/><path transform="translate(97.50,0)" d="M0,-3.6 H5.5 V-5.2 Q5.5,-7 3.7,-7 H1.8 Q0,-7 0,-5.2 V-1.8 Q0,0 1.8,0 H4.9" vector-effect="non-scaling-stroke"/><path transform="translate(106.30,0)" d="M0.4,-7 V0 M0.4,-9.4 V-8.9" vector-effect="non-scaling-stroke"/><path transform="translate(110.40,0)" d="M3.8,-10 H2.9 Q1.4,-10 1.4,-8.5 V0 M0,-7 H3.6" vector-effect="non-scaling-stroke"/><path transform="translate(117.50,0)" d="M0,-3.6 H5.5 V-5.2 Q5.5,-7 3.7,-7 H1.8 Q0,-7 0,-5.2 V-1.8 Q0,0 1.8,0 H4.9" vector-effect="non-scaling-stroke"/><path transform="translate(126.30,0)" d="M0,-7 V0 M0,-5.6 Q0.9,-7 2.6,-7 H3.8 Q5.5,-7 5.5,-5.3 V0" vector-effect="non-scaling-stroke"/></g>
<path d="M988.00,115.00 L803.75,115.00 L720.00,171.25" fill="none" stroke="#111" stroke-width="1.2" stroke-linejoin="round"/>
<path d="M720.00,171.25 L731.17,160.98 L733.73,164.80 Z" fill="#111" stroke="#111" stroke-width="0.8"/>
<g transform="translate(311.10,144.50) scale(1.2766,1.42)" fill="none" stroke="#111" stroke-width="1.55" stroke-linecap="round" stroke-linejoin="round"><path transform="translate(0.00,0)" d="M0,0 V-10 H4.3 Q6.5,-10 6.5,-7.8 V-6.8 Q6.5,-4.6 4.3,-4.6 H0" vector-effect="non-scaling-stroke"/><path transform="translate(9.80,0)" d="M0.6,-6.6 Q1.2,-7 2,-7 H3.8 Q5.5,-7 5.5,-5.3 V0 M5.5,-3.9 H1.6 Q0,-3.9 0,-2.3 V-1.5 Q0,0 1.6,0 H3.6 Q4.9,0 5.5,-1.2" vector-effect="non-scaling-stroke"/><path transform="translate(18.60,0)" d="M0,-7 V0 M0,-5.2 Q1,-7 2.9,-7 H4" vector-effect="non-scaling-stroke"/><path transform="translate(25.90,0)" d="M0,-10 V0 M5.2,-7 L0.2,-2.6 M1.7,-3.9 L5.4,0" vector-effect="non-scaling-stroke"/><path transform="translate(34.60,0)" d="M0,-3.6 H5.5 V-5.2 Q5.5,-7 3.7,-7 H1.8 Q0,-7 0,-5.2 V-1.8 Q0,0 1.8,0 H4.9" vector-effect="non-scaling-stroke"/><path transform="translate(43.40,0)" d="M1.3,-9.3 V-1.3 Q1.3,0 2.6,0 H3.6 M0,-7 H3.6" vector-effect="non-scaling-stroke"/><path transform="translate(50.30,0)" d="M1.3,-9.3 V-1.3 Q1.3,0 2.6,0 H3.6 M0,-7 H3.6" vector-effect="non-scaling-stroke"/><path transform="translate(62.70,0)" d="M1.8,0 Q0,0 0,-1.8 V-5.2 Q0,-7 1.8,-7 H3.7 Q5.5,-7 5.5,-5.2 V-1.8 Q5.5,0 3.7,0 Z" vector-effect="non-scaling-stroke"/><path transform="translate(71.50,0)" d="M5.5,-10 V0 M5.5,-1.4 Q4.6,0 3,0 H1.8 Q0,0 0,-1.8 V-5.2 Q0,-7 1.8,-7 H3 Q4.6,-7 5.5,-5.6" vector-effect="non-scaling-stroke"/><path transform="translate(80.30,0)" d="M0,-3.6 H5.5 V-5.2 Q5.5,-7 3.7,-7 H1.8 Q0,-7 0,-5.2 V-1.8 Q0,0 1.8,0 H4.9" vector-effect="non-scaling-stroke"/><path transform="translate(89.10,0)" d="M0,-7 V0 M0,-5.2 Q1,-7 2.9,-7 H4" vector-effect="non-scaling-stroke"/><path transform="translate(101.90,0)" d="M0,-10 V0 H5.5" vector-effect="non-scaling-stroke"/><path transform="translate(110.70,0)" d="M0.6,-6.6 Q1.2,-7 2,-7 H3.8 Q5.5,-7 5.5,-5.3 V0 M5.5,-3.9 H1.6 Q0,-3.9 0,-2.3 V-1.5 Q0,0 1.6,0 H3.6 Q4.9,0 5.5,-1.2" vector-effect="non-scaling-stroke"/><path transform="translate(119.50,0)" d="M0,-7 V0 M0,-5.8 Q0.6,-7 1.9,-7 Q3.5,-7 3.5,-5.5 V0 M3.5,-5.6 Q4.1,-7 5.4,-7 Q7,-7 7,-5.5 V0" vector-effect="non-scaling-stroke"/><path transform="translate(129.80,0)" d="M0.4,-7 V0 M0.4,-9.4 V-8.9" vector-effect="non-scaling-stroke"/><path transform="translate(133.90,0)" d="M0,-7 V0 M0,-5.6 Q0.9,-7 2.6,-7 H3.8 Q5.5,-7 5.5,-5.3 V0" vector-effect="non-scaling-stroke"/><path transform="translate(142.70,0)" d="M0.6,-6.6 Q1.2,-7 2,-7 H3.8 Q5.5,-7 5.5,-5.3 V0 M5.5,-3.9 H1.6 Q0,-3.9 0,-2.3 V-1.5 Q0,0 1.6,0 H3.6 Q4.9,0 5.5,-1.2" vector-effect="non-scaling-stroke"/><path transform="translate(151.50,0)" d="M1.3,-9.3 V-1.3 Q1.3,0 2.6,0 H3.6 M0,-7 H3.6" vector-effect="non-scaling-stroke"/></g>
<path d="M329.00,153.40 L525.70,153.40 L638.30,226.00" fill="none" stroke="#111" stroke-width="1.2" stroke-linejoin="round"/>
<path d="M638.30,226.00 L624.45,219.80 L626.94,215.94 Z" fill="#111" stroke="#111" stroke-width="0.8"/>
<g transform="translate(177.10,179.50) scale(1.2778,1.42)" fill="none" stroke="#111" stroke-width="1.55" stroke-linecap="round" stroke-linejoin="round"><path transform="translate(0.00,0)" d="M0,0 V-10 H4.3 Q6.5,-10 6.5,-7.8 V-7 Q6.5,-4.8 4.3,-4.8 H0 M3.8,-4.8 L6.6,0" vector-effect="non-scaling-stroke"/><path transform="translate(9.90,0)" d="M1.8,0 Q0,0 0,-1.8 V-5.2 Q0,-7 1.8,-7 H3.7 Q5.5,-7 5.5,-5.2 V-1.8 Q5.5,0 3.7,0 Z" vector-effect="non-scaling-stroke"/><path transform="translate(18.70,0)" d="M0,-10 V0 M0,-5.6 Q0.9,-7 2.6,-7 H3.8 Q5.5,-7 5.5,-5.3 V0" vector-effect="non-scaling-stroke"/><path transform="translate(27.50,0)" d="M0,-7 V0 M0,-5.2 Q1,-7 2.9,-7 H4" vector-effect="non-scaling-stroke"/><path transform="translate(34.80,0)" d="M0,-7 V0 M0,-5.6 Q0.9,-7 2.6,-7 H3.8 Q5.5,-7 5.5,-5.3 V0" vector-effect="non-scaling-stroke"/><path transform="translate(43.60,0)" d="M0,-7 V-1.7 Q0,0 1.7,0 H2.9 Q4.6,0 5.5,-1.4 M5.5,-7 V0" vector-effect="non-scaling-stroke"/><path transform="translate(52.40,0)" d="M1.3,-9.3 V-1.3 Q1.3,0 2.6,0 H3.6 M0,-7 H3.6" vector-effect="non-scaling-stroke"/><path transform="translate(64.80,0)" d="M0,-7 V0 M0,-5.8 Q0.6,-7 1.9,-7 Q3.5,-7 3.5,-5.5 V0 M3.5,-5.6 Q4.1,-7 5.4,-7 Q7,-7 7,-5.5 V0" vector-effect="non-scaling-stroke"/><path transform="translate(75.10,0)" d="M0.4,-7 V0 M0.4,-9.4 V-8.9" vector-effect="non-scaling-stroke"/><path transform="translate(79.20,0)" d="M1.3,-9.3 V-1.3 Q1.3,0 2.6,0 H3.6 M0,-7 H3.6" vector-effect="non-scaling-stroke"/></g>
<g transform="translate(129.10,208.10) scale(1.2753,1.42)" fill="none" stroke="#111" stroke-width="1.55" stroke-linecap="round" stroke-linejoin="round"><path transform="translate(0.00,0)" d="M0,0 L3.3,-10 L6.6,0 M1.1,-3.4 H5.5" vector-effect="non-scaling-stroke"/><path transform="translate(9.90,0)" d="M0,-7 V-1.7 Q0,0 1.7,0 H2.9 Q4.6,0 5.5,-1.4 M5.5,-7 V0" vector-effect="non-scaling-stroke"/><path transform="translate(18.70,0)" d="M5.3,-6.2 Q4.7,-7 3.4,-7 H2 Q0.2,-7 0.2,-5.3 Q0.2,-3.9 1.9,-3.7 L3.7,-3.4 Q5.5,-3.1 5.5,-1.6 Q5.5,0 3.6,0 H2 Q0.6,0 0,-0.9" vector-effect="non-scaling-stroke"/><path transform="translate(27.50,0)" d="M5.5,-7 V1.2 Q5.5,3 3.7,3 H0.9 M5.5,-1.4 Q4.6,0 3,0 H1.8 Q0,0 0,-1.8 V-5.2 Q0,-7 1.8,-7 H3 Q4.6,-7 5.5,-5.6" vector-effect="non-scaling-stroke"/><path transform="translate(36.30,0)" d="M0.4,-10 V0" vector-effect="non-scaling-stroke"/><path transform="translate(40.40,0)" d="M0,-3.6 H5.5 V-5.2 Q5.5,-7 3.7,-7 H1.8 Q0,-7 0,-5.2 V-1.8 Q0,0 1.8,0 H4.9" vector-effect="non-scaling-stroke"/><path transform="translate(49.20,0)" d="M0.4,-7 V0 M0.4,-9.4 V-8.9" vector-effect="non-scaling-stroke"/><path transform="translate(53.30,0)" d="M5.3,-6.1 Q4.7,-7 3.4,-7 H1.8 Q0,-7 0,-5.2 V-1.8 Q0,0 1.8,0 H3.4 Q4.7,0 5.3,-0.9" vector-effect="non-scaling-stroke"/><path transform="translate(61.90,0)" d="M0,-10 V0 M0,-5.6 Q0.9,-7 2.6,-7 H3.8 Q5.5,-7 5.5,-5.3 V0" vector-effect="non-scaling-stroke"/><path transform="translate(70.70,0)" d="M5.3,-6.2 Q4.7,-7 3.4,-7 H2 Q0.2,-7 0.2,-5.3 Q0.2,-3.9 1.9,-3.7 L3.7,-3.4 Q5.5,-3.1 5.5,-1.6 Q5.5,0 3.6,0 H2 Q0.6,0 0,-0.9" vector-effect="non-scaling-stroke"/><path transform="translate(79.50,0)" d="M0,-7 V0 M0,-5.8 Q0.6,-7 1.9,-7 Q3.5,-7 3.5,-5.5 V0 M3.5,-5.6 Q4.1,-7 5.4,-7 Q7,-7 7,-5.5 V0" vector-effect="non-scaling-stroke"/><path transform="translate(89.80,0)" d="M0.6,-6.6 Q1.2,-7 2,-7 H3.8 Q5.5,-7 5.5,-5.3 V0 M5.5,-3.9 H1.6 Q0,-3.9 0,-2.3 V-1.5 Q0,0 1.6,0 H3.6 Q4.9,0 5.5,-1.2" vector-effect="non-scaling-stroke"/><path transform="translate(98.60,0)" d="M5.3,-6.2 Q4.7,-7 3.4,-7 H2 Q0.2,-7 0.2,-5.3 Q0.2,-3.9 1.9,-3.7 L3.7,-3.4 Q5.5,-3.1 5.5,-1.6 Q5.5,0 3.6,0 H2 Q0.6,0 0,-0.9" vector-effect="non-scaling-stroke"/><path transform="translate(107.40,0)" d="M5.3,-6.2 Q4.7,-7 3.4,-7 H2 Q0.2,-7 0.2,-5.3 Q0.2,-3.9 1.9,-3.7 L3.7,-3.4 Q5.5,-3.1 5.5,-1.6 Q5.5,0 3.6,0 H2 Q0.6,0 0,-0.9" vector-effect="non-scaling-stroke"/><path transform="translate(116.20,0)" d="M0,-3.6 H5.5 V-5.2 Q5.5,-7 3.7,-7 H1.8 Q0,-7 0,-5.2 V-1.8 Q0,0 1.8,0 H4.9" vector-effect="non-scaling-stroke"/></g>
<g transform="translate(201.70,236.50) scale(1.2934,1.42)" fill="none" stroke="#111" stroke-width="1.55" stroke-linecap="round" stroke-linejoin="round"><path transform="translate(0.00,0)" d="M0,-7 L2.8,0 L5.6,-7" vector-effect="non-scaling-stroke"/><path transform="translate(8.90,0)" d="M0,-3.6 H5.5 V-5.2 Q5.5,-7 3.7,-7 H1.8 Q0,-7 0,-5.2 V-1.8 Q0,0 1.8,0 H4.9" vector-effect="non-scaling-stroke"/><path transform="translate(17.70,0)" d="M0,-7 V0 M0,-5.2 Q1,-7 2.9,-7 H4" vector-effect="non-scaling-stroke"/><path transform="translate(25.00,0)" d="M3.8,-10 H2.9 Q1.4,-10 1.4,-8.5 V0 M0,-7 H3.6" vector-effect="non-scaling-stroke"/><path transform="translate(32.10,0)" d="M0,-7 V-1.7 Q0,0 1.7,0 H2.9 Q4.6,0 5.5,-1.4 M5.5,-7 V0 M1.54,-9.1 V-8.6 M3.96,-9.1 V-8.6" vector-effect="non-scaling-stroke"/><path transform="translate(40.90,0)" d="M0.4,-10 V0" vector-effect="non-scaling-stroke"/><path transform="translate(45.00,0)" d="M0.4,-10 V0" vector-effect="non-scaling-stroke"/><path transform="translate(49.10,0)" d="M0,-3.6 H5.5 V-5.2 Q5.5,-7 3.7,-7 H1.8 Q0,-7 0,-5.2 V-1.8 Q0,0 1.8,0 H4.9" vector-effect="non-scaling-stroke"/><path transform="translate(57.90,0)" d="M0,-7 V0 M0,-5.6 Q0.9,-7 2.6,-7 H3.8 Q5.5,-7 5.5,-5.3 V0" vector-effect="non-scaling-stroke"/></g>
<path d="M104.00,245.40 L300.00,245.40 L413.10,317.50" fill="none" stroke="#111" stroke-width="1.2" stroke-linejoin="round"/>
<path d="M413.10,317.50 L399.22,311.38 L401.69,307.50 Z" fill="#111" stroke="#111" stroke-width="0.8"/>
<g transform="translate(133.20,428.70) scale(1.2662,1.42)" fill="none" stroke="#111" stroke-width="1.55" stroke-linecap="round" stroke-linejoin="round"><path transform="translate(0.00,0)" d="M0,-10 V0 M6.2,-10 V0 M0,-5 H6.2" vector-effect="non-scaling-stroke"/><path transform="translate(9.50,0)" d="M0,-3.6 H5.5 V-5.2 Q5.5,-7 3.7,-7 H1.8 Q0,-7 0,-5.2 V-1.8 Q0,0 1.8,0 H4.9" vector-effect="non-scaling-stroke"/><path transform="translate(18.30,0)" d="M0.4,-7 V0 M0.4,-9.4 V-8.9" vector-effect="non-scaling-stroke"/><path transform="translate(22.40,0)" d="M0.2,-7 H5.4 L0,0 H5.5" vector-effect="non-scaling-stroke"/><path transform="translate(31.20,0)" d="M0,-7 V0 M0,-5.2 Q1,-7 2.9,-7 H4" vector-effect="non-scaling-stroke"/><path transform="translate(38.50,0)" d="M1.8,0 Q0,0 0,-1.8 V-5.2 Q0,-7 1.8,-7 H3.7 Q5.5,-7 5.5,-5.2 V-1.8 Q5.5,0 3.7,0 Z" vector-effect="non-scaling-stroke"/><path transform="translate(47.30,0)" d="M0,-10 V0 M0,-5.6 Q0.9,-7 2.6,-7 H3.8 Q5.5,-7 5.5,-5.3 V0" vector-effect="non-scaling-stroke"/><path transform="translate(56.10,0)" d="M0,-7 V0 M0,-5.2 Q1,-7 2.9,-7 H4" vector-effect="non-scaling-stroke"/></g>
<path d="M134.20,438.30 L225.80,438.30 L305.00,371.70" fill="none" stroke="#111" stroke-width="1.2" stroke-linejoin="round"/>
<path d="M305.00,371.70 L295.00,383.11 L292.04,379.59 Z" fill="#111" stroke="#111" stroke-width="0.8"/>
<g transform="translate(240.20,525.00) scale(1.2929,1.42)" fill="none" stroke="#111" stroke-width="1.55" stroke-linecap="round" stroke-linejoin="round"><path transform="translate(0.00,0)" d="M0,0 V-10 L3.8,-3.6 L7.6,-10 V0" vector-effect="non-scaling-stroke"/><path transform="translate(10.90,0)" d="M0,0 V-10 H3.4 Q6.5,-10 6.5,-6.9 V-3.1 Q6.5,0 3.4,0 Z" vector-effect="non-scaling-stroke"/><path transform="translate(20.70,0)" d="M5.6,-10 H0 V0 M0,-5.1 H4.6" vector-effect="non-scaling-stroke"/><path transform="translate(29.60,0)" d="M0.3,-4.2 H4.3" vector-effect="non-scaling-stroke"/><path transform="translate(37.50,0)" d="M0,0 V-10 H4 Q6.1,-10 6.1,-7.9 V-7.4 Q6.1,-5.3 4,-5.3 H0 M4,-5.3 Q6.5,-5.3 6.5,-2.8 V-2.3 Q6.5,0 4.1,0 H0" vector-effect="non-scaling-stroke"/><path transform="translate(47.30,0)" d="M0.6,-6.6 Q1.2,-7 2,-7 H3.8 Q5.5,-7 5.5,-5.3 V0 M5.5,-3.9 H1.6 Q0,-3.9 0,-2.3 V-1.5 Q0,0 1.6,0 H3.6 Q4.9,0 5.5,-1.2" vector-effect="non-scaling-stroke"/><path transform="translate(56.10,0)" d="M5.3,-6.2 Q4.7,-7 3.4,-7 H2 Q0.2,-7 0.2,-5.3 Q0.2,-3.9 1.9,-3.7 L3.7,-3.4 Q5.5,-3.1 5.5,-1.6 Q5.5,0 3.6,0 H2 Q0.6,0 0,-0.9" vector-effect="non-scaling-stroke"/><path transform="translate(64.90,0)" d="M0.4,-7 V0 M0.4,-9.4 V-8.9" vector-effect="non-scaling-stroke"/><path transform="translate(69.00,0)" d="M5.3,-6.2 Q4.7,-7 3.4,-7 H2 Q0.2,-7 0.2,-5.3 Q0.2,-3.9 1.9,-3.7 L3.7,-3.4 Q5.5,-3.1 5.5,-1.6 Q5.5,0 3.6,0 H2 Q0.6,0 0,-0.9" vector-effect="non-scaling-stroke"/><path transform="translate(77.80,0)" d="M0,-7 V3 M0,-5.6 Q0.9,-7 2.5,-7 H3.7 Q5.5,-7 5.5,-5.2 V-1.8 Q5.5,0 3.7,0 H2.5 Q0.9,0 0,-1.4" vector-effect="non-scaling-stroke"/><path transform="translate(86.60,0)" d="M0.4,-10 V0" vector-effect="non-scaling-stroke"/><path transform="translate(90.70,0)" d="M0.6,-6.6 Q1.2,-7 2,-7 H3.8 Q5.5,-7 5.5,-5.3 V0 M5.5,-3.9 H1.6 Q0,-3.9 0,-2.3 V-1.5 Q0,0 1.6,0 H3.6 Q4.9,0 5.5,-1.2" vector-effect="non-scaling-stroke"/><path transform="translate(99.50,0)" d="M1.3,-9.3 V-1.3 Q1.3,0 2.6,0 H3.6 M0,-7 H3.6" vector-effect="non-scaling-stroke"/><path transform="translate(106.40,0)" d="M1.3,-9.3 V-1.3 Q1.3,0 2.6,0 H3.6 M0,-7 H3.6" vector-effect="non-scaling-stroke"/><path transform="translate(113.30,0)" d="M0,-3.6 H5.5 V-5.2 Q5.5,-7 3.7,-7 H1.8 Q0,-7 0,-5.2 V-1.8 Q0,0 1.8,0 H4.9" vector-effect="non-scaling-stroke"/></g>
<path d="M239.50,538.25 L409.25,538.25 L477.50,416.25" fill="none" stroke="#111" stroke-width="1.2" stroke-linejoin="round"/>
<path d="M477.50,416.25 L472.18,430.46 L468.17,428.22 Z" fill="#111" stroke="#111" stroke-width="0.8"/>
<g transform="translate(807.45,435.30) scale(1.2856,1.42)" fill="none" stroke="#111" stroke-width="1.55" stroke-linecap="round" stroke-linejoin="round"><path transform="translate(0.00,0)" d="M0,-10 V-2.6 Q0,0 2.6,0 H3.6 Q6.2,0 6.2,-2.6 V-10" vector-effect="non-scaling-stroke"/><path transform="translate(9.50,0)" d="M0,-7 V0 M0,-5.6 Q0.9,-7 2.6,-7 H3.8 Q5.5,-7 5.5,-5.3 V0" vector-effect="non-scaling-stroke"/><path transform="translate(18.30,0)" d="M1.3,-9.3 V-1.3 Q1.3,0 2.6,0 H3.6 M0,-7 H3.6" vector-effect="non-scaling-stroke"/><path transform="translate(25.20,0)" d="M0,-3.6 H5.5 V-5.2 Q5.5,-7 3.7,-7 H1.8 Q0,-7 0,-5.2 V-1.8 Q0,0 1.8,0 H4.9" vector-effect="non-scaling-stroke"/><path transform="translate(34.00,0)" d="M0,-7 V0 M0,-5.2 Q1,-7 2.9,-7 H4" vector-effect="non-scaling-stroke"/><path transform="translate(41.30,0)" d="M0,-10 V0 M5.2,-7 L0.2,-2.6 M1.7,-3.9 L5.4,0" vector-effect="non-scaling-stroke"/><path transform="translate(50.00,0)" d="M1.8,0 Q0,0 0,-1.8 V-5.2 Q0,-7 1.8,-7 H3.7 Q5.5,-7 5.5,-5.2 V-1.8 Q5.5,0 3.7,0 Z" vector-effect="non-scaling-stroke"/><path transform="translate(58.80,0)" d="M0,-7 V0 M0,-5.6 Q0.9,-7 2.6,-7 H3.8 Q5.5,-7 5.5,-5.3 V0" vector-effect="non-scaling-stroke"/><path transform="translate(67.60,0)" d="M5.3,-6.2 Q4.7,-7 3.4,-7 H2 Q0.2,-7 0.2,-5.3 Q0.2,-3.9 1.9,-3.7 L3.7,-3.4 Q5.5,-3.1 5.5,-1.6 Q5.5,0 3.6,0 H2 Q0.6,0 0,-0.9" vector-effect="non-scaling-stroke"/><path transform="translate(76.40,0)" d="M1.3,-9.3 V-1.3 Q1.3,0 2.6,0 H3.6 M0,-7 H3.6" vector-effect="non-scaling-stroke"/><path transform="translate(83.30,0)" d="M0,-7 V0 M0,-5.2 Q1,-7 2.9,-7 H4" vector-effect="non-scaling-stroke"/><path transform="translate(90.60,0)" d="M0,-7 V-1.7 Q0,0 1.7,0 H2.9 Q4.6,0 5.5,-1.4 M5.5,-7 V0" vector-effect="non-scaling-stroke"/><path transform="translate(99.40,0)" d="M0,-10 V0 M5.2,-7 L0.2,-2.6 M1.7,-3.9 L5.4,0" vector-effect="non-scaling-stroke"/><path transform="translate(108.10,0)" d="M1.3,-9.3 V-1.3 Q1.3,0 2.6,0 H3.6 M0,-7 H3.6" vector-effect="non-scaling-stroke"/><path transform="translate(115.00,0)" d="M0.4,-7 V0 M0.4,-9.4 V-8.9" vector-effect="non-scaling-stroke"/><path transform="translate(119.10,0)" d="M1.8,0 Q0,0 0,-1.8 V-5.2 Q0,-7 1.8,-7 H3.7 Q5.5,-7 5.5,-5.2 V-1.8 Q5.5,0 3.7,0 Z" vector-effect="non-scaling-stroke"/><path transform="translate(127.90,0)" d="M0,-7 V0 M0,-5.6 Q0.9,-7 2.6,-7 H3.8 Q5.5,-7 5.5,-5.3 V0" vector-effect="non-scaling-stroke"/><path transform="translate(142.20,0)" d="M0.4,-10.8 V1.2" vector-effect="non-scaling-stroke"/><path transform="translate(146.30,0)" d="M0.6,-6.6 Q1.2,-7 2,-7 H3.8 Q5.5,-7 5.5,-5.3 V0 M5.5,-3.9 H1.6 Q0,-3.9 0,-2.3 V-1.5 Q0,0 1.6,0 H3.6 Q4.9,0 5.5,-1.2" vector-effect="non-scaling-stroke"/><path transform="translate(155.10,0)" d="M0.4,-10 V0" vector-effect="non-scaling-stroke"/><path transform="translate(159.20,0)" d="M1.3,-9.3 V-1.3 Q1.3,0 2.6,0 H3.6 M0,-7 H3.6" vector-effect="non-scaling-stroke"/><path transform="translate(166.10,0)" d="M0,-3.6 H5.5 V-5.2 Q5.5,-7 3.7,-7 H1.8 Q0,-7 0,-5.2 V-1.8 Q0,0 1.8,0 H4.9" vector-effect="non-scaling-stroke"/><path transform="translate(180.40,0)" d="M0,0 V-10 H3.4 Q6.5,-10 6.5,-6.9 V-3.1 Q6.5,0 3.4,0 Z" vector-effect="non-scaling-stroke"/><path transform="translate(190.20,0)" d="M0.4,-7 V0 M0.4,-9.4 V-8.9" vector-effect="non-scaling-stroke"/><path transform="translate(194.30,0)" d="M0,-3.6 H5.5 V-5.2 Q5.5,-7 3.7,-7 H1.8 Q0,-7 0,-5.2 V-1.8 Q0,0 1.8,0 H4.9" vector-effect="non-scaling-stroke"/><path transform="translate(203.10,0)" d="M0.4,-10 V0" vector-effect="non-scaling-stroke"/><path transform="translate(207.20,0)" d="M0,-7 V-1.7 Q0,0 1.7,0 H2.9 Q4.6,0 5.5,-1.4 M5.5,-7 V0" vector-effect="non-scaling-stroke"/><path transform="translate(216.00,0)" d="M0,-7 V0 M0,-5.6 Q0.9,-7 2.6,-7 H3.8 Q5.5,-7 5.5,-5.3 V0" vector-effect="non-scaling-stroke"/><path transform="translate(224.80,0)" d="M5.5,-7 V1.2 Q5.5,3 3.7,3 H0.9 M5.5,-1.4 Q4.6,0 3,0 H1.8 Q0,0 0,-1.8 V-5.2 Q0,-7 1.8,-7 H3 Q4.6,-7 5.5,-5.6" vector-effect="non-scaling-stroke"/><path transform="translate(233.60,0)" d="M0.4,-10.8 V1.2" vector-effect="non-scaling-stroke"/></g>
<path d="M1109.50,450.00 L792.50,450.00 L715.00,381.70" fill="none" stroke="#111" stroke-width="1.2" stroke-linejoin="round"/>
<path d="M715.00,381.70 L727.77,389.89 L724.73,393.34 Z" fill="#111" stroke="#111" stroke-width="0.8"/></g>
<g><g transform="translate(818.20,750.75) scale(1.2887,1.42)" fill="none" stroke="#111" stroke-width="1.55" stroke-linecap="round" stroke-linejoin="round"><path transform="translate(0.00,0)" d="M0,0 V-10 H4.3 Q6.5,-10 6.5,-7.8 V-7 Q6.5,-4.8 4.3,-4.8 H0 M3.8,-4.8 L6.6,0" vector-effect="non-scaling-stroke"/><path transform="translate(9.90,0)" d="M0.6,-6.6 Q1.2,-7 2,-7 H3.8 Q5.5,-7 5.5,-5.3 V0 M5.5,-3.9 H1.6 Q0,-3.9 0,-2.3 V-1.5 Q0,0 1.6,0 H3.6 Q4.9,0 5.5,-1.2" vector-effect="non-scaling-stroke"/><path transform="translate(18.70,0)" d="M0,-7 V0 M0,-5.6 Q0.9,-7 2.6,-7 H3.8 Q5.5,-7 5.5,-5.3 V0" vector-effect="non-scaling-stroke"/><path transform="translate(27.50,0)" d="M5.5,-10 V0 M5.5,-1.4 Q4.6,0 3,0 H1.8 Q0,0 0,-1.8 V-5.2 Q0,-7 1.8,-7 H3 Q4.6,-7 5.5,-5.6" vector-effect="non-scaling-stroke"/><path transform="translate(36.30,0)" d="M5.5,-10 V0 M5.5,-1.4 Q4.6,0 3,0 H1.8 Q0,0 0,-1.8 V-5.2 Q0,-7 1.8,-7 H3 Q4.6,-7 5.5,-5.6" vector-effect="non-scaling-stroke"/><path transform="translate(45.10,0)" d="M0.6,-6.6 Q1.2,-7 2,-7 H3.8 Q5.5,-7 5.5,-5.3 V0 M5.5,-3.9 H1.6 Q0,-3.9 0,-2.3 V-1.5 Q0,0 1.6,0 H3.6 Q4.9,0 5.5,-1.2 M1.54,-9.1 V-8.6 M3.96,-9.1 V-8.6" vector-effect="non-scaling-stroke"/><path transform="translate(53.90,0)" d="M0,-7 V0 M0,-5.8 Q0.6,-7 1.9,-7 Q3.5,-7 3.5,-5.5 V0 M3.5,-5.6 Q4.1,-7 5.4,-7 Q7,-7 7,-5.5 V0" vector-effect="non-scaling-stroke"/><path transform="translate(64.20,0)" d="M0,-7 V0 M0,-5.8 Q0.6,-7 1.9,-7 Q3.5,-7 3.5,-5.5 V0 M3.5,-5.6 Q4.1,-7 5.4,-7 Q7,-7 7,-5.5 V0" vector-effect="non-scaling-stroke"/><path transform="translate(74.50,0)" d="M5.3,-6.2 Q4.7,-7 3.4,-7 H2 Q0.2,-7 0.2,-5.3 Q0.2,-3.9 1.9,-3.7 L3.7,-3.4 Q5.5,-3.1 5.5,-1.6 Q5.5,0 3.6,0 H2 Q0.6,0 0,-0.9" vector-effect="non-scaling-stroke"/><path transform="translate(83.30,0)" d="M1.3,-9.3 V-1.3 Q1.3,0 2.6,0 H3.6 M0,-7 H3.6" vector-effect="non-scaling-stroke"/><path transform="translate(90.20,0)" d="M0,-7 V0 M0,-5.2 Q1,-7 2.9,-7 H4" vector-effect="non-scaling-stroke"/><path transform="translate(97.50,0)" d="M0,-3.6 H5.5 V-5.2 Q5.5,-7 3.7,-7 H1.8 Q0,-7 0,-5.2 V-1.8 Q0,0 1.8,0 H4.9" vector-effect="non-scaling-stroke"/><path transform="translate(106.30,0)" d="M0.4,-7 V0 M0.4,-9.4 V-8.9" vector-effect="non-scaling-stroke"/><path transform="translate(110.40,0)" d="M3.8,-10 H2.9 Q1.4,-10 1.4,-8.5 V0 M0,-7 H3.6" vector-effect="non-scaling-stroke"/><path transform="translate(117.50,0)" d="M0,-3.6 H5.5 V-5.2 Q5.5,-7 3.7,-7 H1.8 Q0,-7 0,-5.2 V-1.8 Q0,0 1.8,0 H4.9" vector-effect="non-scaling-stroke"/><path transform="translate(126.30,0)" d="M0,-7 V0 M0,-5.6 Q0.9,-7 2.6,-7 H3.8 Q5.5,-7 5.5,-5.3 V0" vector-effect="non-scaling-stroke"/></g>
<path d="M988.00,760.50 L803.75,760.50 L720.00,816.75" fill="none" stroke="#111" stroke-width="1.2" stroke-linejoin="round"/>
<path d="M720.00,816.75 L731.17,806.48 L733.73,810.30 Z" fill="#111" stroke="#111" stroke-width="0.8"/>
<g transform="translate(448.50,749.25) scale(1.2711,1.42)" fill="none" stroke="#111" stroke-width="1.55" stroke-linecap="round" stroke-linejoin="round"><path transform="translate(0.00,0)" d="M5.6,-10 H0 V0 M0,-5.1 H4.6" vector-effect="non-scaling-stroke"/><path transform="translate(8.90,0)" d="M0.4,-10 V0" vector-effect="non-scaling-stroke"/><path transform="translate(13.00,0)" d="M0.4,-7 V0 M0.4,-9.4 V-8.9" vector-effect="non-scaling-stroke"/><path transform="translate(17.10,0)" d="M0,-3.6 H5.5 V-5.2 Q5.5,-7 3.7,-7 H1.8 Q0,-7 0,-5.2 V-1.8 Q0,0 1.8,0 H4.9" vector-effect="non-scaling-stroke"/><path transform="translate(25.90,0)" d="M5.3,-6.2 Q4.7,-7 3.4,-7 H2 Q0.2,-7 0.2,-5.3 Q0.2,-3.9 1.9,-3.7 L3.7,-3.4 Q5.5,-3.1 5.5,-1.6 Q5.5,0 3.6,0 H2 Q0.6,0 0,-0.9" vector-effect="non-scaling-stroke"/><path transform="translate(34.70,0)" d="M0,-3.6 H5.5 V-5.2 Q5.5,-7 3.7,-7 H1.8 Q0,-7 0,-5.2 V-1.8 Q0,0 1.8,0 H4.9" vector-effect="non-scaling-stroke"/></g>
<path d="M448.50,757.50 L516.75,757.50 L600.75,879.25" fill="none" stroke="#111" stroke-width="1.2" stroke-linejoin="round"/>
<path d="M600.75,879.25 L590.34,868.21 L594.12,865.60 Z" fill="#111" stroke="#111" stroke-width="0.8"/>
<g transform="translate(230.45,813.30) scale(1.2900,1.42)" fill="none" stroke="#111" stroke-width="1.55" stroke-linecap="round" stroke-linejoin="round"><path transform="translate(0.00,0)" d="M5.6,-10 H0 V0 H5.6 M0,-5.1 H4.6" vector-effect="non-scaling-stroke"/><path transform="translate(8.90,0)" d="M0,-7 V0 M0,-5.6 Q0.9,-7 2.6,-7 H3.8 Q5.5,-7 5.5,-5.3 V0" vector-effect="non-scaling-stroke"/><path transform="translate(17.70,0)" d="M1.3,-9.3 V-1.3 Q1.3,0 2.6,0 H3.6 M0,-7 H3.6" vector-effect="non-scaling-stroke"/><path transform="translate(24.60,0)" d="M0,-10 V0 M5.2,-7 L0.2,-2.6 M1.7,-3.9 L5.4,0" vector-effect="non-scaling-stroke"/><path transform="translate(33.30,0)" d="M1.8,0 Q0,0 0,-1.8 V-5.2 Q0,-7 1.8,-7 H3.7 Q5.5,-7 5.5,-5.2 V-1.8 Q5.5,0 3.7,0 Z" vector-effect="non-scaling-stroke"/><path transform="translate(42.10,0)" d="M0,-7 V3 M0,-5.6 Q0.9,-7 2.5,-7 H3.7 Q5.5,-7 5.5,-5.2 V-1.8 Q5.5,0 3.7,0 H2.5 Q0.9,0 0,-1.4" vector-effect="non-scaling-stroke"/><path transform="translate(50.90,0)" d="M0,-7 V3 M0,-5.6 Q0.9,-7 2.5,-7 H3.7 Q5.5,-7 5.5,-5.2 V-1.8 Q5.5,0 3.7,0 H2.5 Q0.9,0 0,-1.4" vector-effect="non-scaling-stroke"/><path transform="translate(59.70,0)" d="M0.4,-10 V0" vector-effect="non-scaling-stroke"/><path transform="translate(63.80,0)" d="M0,-7 V-1.7 Q0,0 1.7,0 H2.9 Q4.6,0 5.5,-1.4 M5.5,-7 V0" vector-effect="non-scaling-stroke"/><path transform="translate(72.60,0)" d="M0,-7 V0 M0,-5.6 Q0.9,-7 2.6,-7 H3.8 Q5.5,-7 5.5,-5.3 V0" vector-effect="non-scaling-stroke"/><path transform="translate(81.40,0)" d="M5.5,-7 V1.2 Q5.5,3 3.7,3 H0.9 M5.5,-1.4 Q4.6,0 3,0 H1.8 Q0,0 0,-1.8 V-5.2 Q0,-7 1.8,-7 H3 Q4.6,-7 5.5,-5.6" vector-effect="non-scaling-stroke"/><path transform="translate(90.20,0)" d="M5.3,-6.2 Q4.7,-7 3.4,-7 H2 Q0.2,-7 0.2,-5.3 Q0.2,-3.9 1.9,-3.7 L3.7,-3.4 Q5.5,-3.1 5.5,-1.6 Q5.5,0 3.6,0 H2 Q0.6,0 0,-0.9" vector-effect="non-scaling-stroke"/><path transform="translate(99.00,0)" d="M0,-7 V3 M0,-5.6 Q0.9,-7 2.5,-7 H3.7 Q5.5,-7 5.5,-5.2 V-1.8 Q5.5,0 3.7,0 H2.5 Q0.9,0 0,-1.4" vector-effect="non-scaling-stroke"/><path transform="translate(107.80,0)" d="M0.4,-10 V0" vector-effect="non-scaling-stroke"/><path transform="translate(111.90,0)" d="M0.6,-6.6 Q1.2,-7 2,-7 H3.8 Q5.5,-7 5.5,-5.3 V0 M5.5,-3.9 H1.6 Q0,-3.9 0,-2.3 V-1.5 Q0,0 1.6,0 H3.6 Q4.9,0 5.5,-1.2" vector-effect="non-scaling-stroke"/><path transform="translate(120.70,0)" d="M1.3,-9.3 V-1.3 Q1.3,0 2.6,0 H3.6 M0,-7 H3.6" vector-effect="non-scaling-stroke"/><path transform="translate(127.60,0)" d="M1.3,-9.3 V-1.3 Q1.3,0 2.6,0 H3.6 M0,-7 H3.6" vector-effect="non-scaling-stroke"/><path transform="translate(134.50,0)" d="M0,-3.6 H5.5 V-5.2 Q5.5,-7 3.7,-7 H1.8 Q0,-7 0,-5.2 V-1.8 Q0,0 1.8,0 H4.9" vector-effect="non-scaling-stroke"/></g>
<path d="M229.75,825.70 L425.75,825.70 L539.50,898.50" fill="none" stroke="#111" stroke-width="1.2" stroke-linejoin="round"/>
<path d="M539.50,898.50 L525.63,892.35 L528.11,888.48 Z" fill="#111" stroke="#111" stroke-width="0.8"/>
<g transform="translate(157.40,857.60) scale(1.2760,1.42)" fill="none" stroke="#111" stroke-width="1.55" stroke-linecap="round" stroke-linejoin="round"><path transform="translate(0.00,0)" d="M0,0 V-10 H4.3 Q6.5,-10 6.5,-7.8 V-7 Q6.5,-4.8 4.3,-4.8 H0 M3.8,-4.8 L6.6,0" vector-effect="non-scaling-stroke"/><path transform="translate(9.90,0)" d="M1.8,0 Q0,0 0,-1.8 V-5.2 Q0,-7 1.8,-7 H3.7 Q5.5,-7 5.5,-5.2 V-1.8 Q5.5,0 3.7,0 Z" vector-effect="non-scaling-stroke"/><path transform="translate(18.70,0)" d="M0,-10 V0 M0,-5.6 Q0.9,-7 2.6,-7 H3.8 Q5.5,-7 5.5,-5.3 V0" vector-effect="non-scaling-stroke"/><path transform="translate(27.50,0)" d="M0,-7 V0 M0,-5.2 Q1,-7 2.9,-7 H4" vector-effect="non-scaling-stroke"/><path transform="translate(34.80,0)" d="M0,-7 V0 M0,-5.6 Q0.9,-7 2.6,-7 H3.8 Q5.5,-7 5.5,-5.3 V0" vector-effect="non-scaling-stroke"/><path transform="translate(43.60,0)" d="M0,-7 V-1.7 Q0,0 1.7,0 H2.9 Q4.6,0 5.5,-1.4 M5.5,-7 V0" vector-effect="non-scaling-stroke"/><path transform="translate(52.40,0)" d="M1.3,-9.3 V-1.3 Q1.3,0 2.6,0 H3.6 M0,-7 H3.6" vector-effect="non-scaling-stroke"/><path transform="translate(64.80,0)" d="M0,-7 V0 M0,-5.8 Q0.6,-7 1.9,-7 Q3.5,-7 3.5,-5.5 V0 M3.5,-5.6 Q4.1,-7 5.4,-7 Q7,-7 7,-5.5 V0" vector-effect="non-scaling-stroke"/><path transform="translate(75.10,0)" d="M0.4,-7 V0 M0.4,-9.4 V-8.9" vector-effect="non-scaling-stroke"/><path transform="translate(79.20,0)" d="M1.3,-9.3 V-1.3 Q1.3,0 2.6,0 H3.6 M0,-7 H3.6" vector-effect="non-scaling-stroke"/></g>
<g transform="translate(108.80,885.75) scale(1.2728,1.42)" fill="none" stroke="#111" stroke-width="1.55" stroke-linecap="round" stroke-linejoin="round"><path transform="translate(0.00,0)" d="M0,0 L3.3,-10 L6.6,0 M1.1,-3.4 H5.5" vector-effect="non-scaling-stroke"/><path transform="translate(9.90,0)" d="M0,-7 V-1.7 Q0,0 1.7,0 H2.9 Q4.6,0 5.5,-1.4 M5.5,-7 V0" vector-effect="non-scaling-stroke"/><path transform="translate(18.70,0)" d="M5.3,-6.2 Q4.7,-7 3.4,-7 H2 Q0.2,-7 0.2,-5.3 Q0.2,-3.9 1.9,-3.7 L3.7,-3.4 Q5.5,-3.1 5.5,-1.6 Q5.5,0 3.6,0 H2 Q0.6,0 0,-0.9" vector-effect="non-scaling-stroke"/><path transform="translate(27.50,0)" d="M5.5,-7 V1.2 Q5.5,3 3.7,3 H0.9 M5.5,-1.4 Q4.6,0 3,0 H1.8 Q0,0 0,-1.8 V-5.2 Q0,-7 1.8,-7 H3 Q4.6,-7 5.5,-5.6" vector-effect="non-scaling-stroke"/><path transform="translate(36.30,0)" d="M0.4,-10 V0" vector-effect="non-scaling-stroke"/><path transform="translate(40.40,0)" d="M0,-3.6 H5.5 V-5.2 Q5.5,-7 3.7,-7 H1.8 Q0,-7 0,-5.2 V-1.8 Q0,0 1.8,0 H4.9" vector-effect="non-scaling-stroke"/><path transform="translate(49.20,0)" d="M0.4,-7 V0 M0.4,-9.4 V-8.9" vector-effect="non-scaling-stroke"/><path transform="translate(53.30,0)" d="M5.3,-6.1 Q4.7,-7 3.4,-7 H1.8 Q0,-7 0,-5.2 V-1.8 Q0,0 1.8,0 H3.4 Q4.7,0 5.3,-0.9" vector-effect="non-scaling-stroke"/><path transform="translate(61.90,0)" d="M0,-10 V0 M0,-5.6 Q0.9,-7 2.6,-7 H3.8 Q5.5,-7 5.5,-5.3 V0" vector-effect="non-scaling-stroke"/><path transform="translate(70.70,0)" d="M5.3,-6.2 Q4.7,-7 3.4,-7 H2 Q0.2,-7 0.2,-5.3 Q0.2,-3.9 1.9,-3.7 L3.7,-3.4 Q5.5,-3.1 5.5,-1.6 Q5.5,0 3.6,0 H2 Q0.6,0 0,-0.9" vector-effect="non-scaling-stroke"/><path transform="translate(79.50,0)" d="M0.6,-6.6 Q1.2,-7 2,-7 H3.8 Q5.5,-7 5.5,-5.3 V0 M5.5,-3.9 H1.6 Q0,-3.9 0,-2.3 V-1.5 Q0,0 1.6,0 H3.6 Q4.9,0 5.5,-1.2" vector-effect="non-scaling-stroke"/><path transform="translate(88.30,0)" d="M0,-7 V0 M0,-5.8 Q0.6,-7 1.9,-7 Q3.5,-7 3.5,-5.5 V0 M3.5,-5.6 Q4.1,-7 5.4,-7 Q7,-7 7,-5.5 V0" vector-effect="non-scaling-stroke"/><path transform="translate(98.60,0)" d="M5.3,-6.2 Q4.7,-7 3.4,-7 H2 Q0.2,-7 0.2,-5.3 Q0.2,-3.9 1.9,-3.7 L3.7,-3.4 Q5.5,-3.1 5.5,-1.6 Q5.5,0 3.6,0 H2 Q0.6,0 0,-0.9" vector-effect="non-scaling-stroke"/><path transform="translate(107.40,0)" d="M5.3,-6.2 Q4.7,-7 3.4,-7 H2 Q0.2,-7 0.2,-5.3 Q0.2,-3.9 1.9,-3.7 L3.7,-3.4 Q5.5,-3.1 5.5,-1.6 Q5.5,0 3.6,0 H2 Q0.6,0 0,-0.9" vector-effect="non-scaling-stroke"/><path transform="translate(116.20,0)" d="M0,-3.6 H5.5 V-5.2 Q5.5,-7 3.7,-7 H1.8 Q0,-7 0,-5.2 V-1.8 Q0,0 1.8,0 H4.9" vector-effect="non-scaling-stroke"/></g>
<g transform="translate(181.10,913.90) scale(1.3028,1.42)" fill="none" stroke="#111" stroke-width="1.55" stroke-linecap="round" stroke-linejoin="round"><path transform="translate(0.00,0)" d="M0,-7 L2.8,0 L5.6,-7" vector-effect="non-scaling-stroke"/><path transform="translate(8.90,0)" d="M0,-3.6 H5.5 V-5.2 Q5.5,-7 3.7,-7 H1.8 Q0,-7 0,-5.2 V-1.8 Q0,0 1.8,0 H4.9" vector-effect="non-scaling-stroke"/><path transform="translate(17.70,0)" d="M0,-7 V0 M0,-5.2 Q1,-7 2.9,-7 H4" vector-effect="non-scaling-stroke"/><path transform="translate(25.00,0)" d="M3.8,-10 H2.9 Q1.4,-10 1.4,-8.5 V0 M0,-7 H3.6" vector-effect="non-scaling-stroke"/><path transform="translate(32.10,0)" d="M0,-7 V-1.7 Q0,0 1.7,0 H2.9 Q4.6,0 5.5,-1.4 M5.5,-7 V0 M1.54,-9.1 V-8.6 M3.96,-9.1 V-8.6" vector-effect="non-scaling-stroke"/><path transform="translate(40.90,0)" d="M0.4,-10 V0" vector-effect="non-scaling-stroke"/><path transform="translate(45.00,0)" d="M0.4,-10 V0" vector-effect="non-scaling-stroke"/><path transform="translate(49.10,0)" d="M0,-3.6 H5.5 V-5.2 Q5.5,-7 3.7,-7 H1.8 Q0,-7 0,-5.2 V-1.8 Q0,0 1.8,0 H4.9" vector-effect="non-scaling-stroke"/><path transform="translate(57.90,0)" d="M0,-7 V0 M0,-5.6 Q0.9,-7 2.6,-7 H3.8 Q5.5,-7 5.5,-5.3 V0" vector-effect="non-scaling-stroke"/></g>
<path d="M83.75,923.30 L279.20,923.30 L434.20,964.20" fill="none" stroke="#111" stroke-width="1.2" stroke-linejoin="round"/>
<path d="M434.20,964.20 L419.11,962.60 L420.28,958.15 Z" fill="#111" stroke="#111" stroke-width="0.8"/>
<g transform="translate(133.20,1074.20) scale(1.2662,1.42)" fill="none" stroke="#111" stroke-width="1.55" stroke-linecap="round" stroke-linejoin="round"><path transform="translate(0.00,0)" d="M0,-10 V0 M6.2,-10 V0 M0,-5 H6.2" vector-effect="non-scaling-stroke"/><path transform="translate(9.50,0)" d="M0,-3.6 H5.5 V-5.2 Q5.5,-7 3.7,-7 H1.8 Q0,-7 0,-5.2 V-1.8 Q0,0 1.8,0 H4.9" vector-effect="non-scaling-stroke"/><path transform="translate(18.30,0)" d="M0.4,-7 V0 M0.4,-9.4 V-8.9" vector-effect="non-scaling-stroke"/><path transform="translate(22.40,0)" d="M0.2,-7 H5.4 L0,0 H5.5" vector-effect="non-scaling-stroke"/><path transform="translate(31.20,0)" d="M0,-7 V0 M0,-5.2 Q1,-7 2.9,-7 H4" vector-effect="non-scaling-stroke"/><path transform="translate(38.50,0)" d="M1.8,0 Q0,0 0,-1.8 V-5.2 Q0,-7 1.8,-7 H3.7 Q5.5,-7 5.5,-5.2 V-1.8 Q5.5,0 3.7,0 Z" vector-effect="non-scaling-stroke"/><path transform="translate(47.30,0)" d="M0,-10 V0 M0,-5.6 Q0.9,-7 2.6,-7 H3.8 Q5.5,-7 5.5,-5.3 V0" vector-effect="non-scaling-stroke"/><path transform="translate(56.10,0)" d="M0,-7 V0 M0,-5.2 Q1,-7 2.9,-7 H4" vector-effect="non-scaling-stroke"/></g>
<path d="M134.20,1083.80 L225.80,1083.80 L305.00,1017.20" fill="none" stroke="#111" stroke-width="1.2" stroke-linejoin="round"/>
<path d="M305.00,1017.20 L295.00,1028.61 L292.04,1025.09 Z" fill="#111" stroke="#111" stroke-width="0.8"/>
<g transform="translate(240.20,1170.50) scale(1.2929,1.42)" fill="none" stroke="#111" stroke-width="1.55" stroke-linecap="round" stroke-linejoin="round"><path transform="translate(0.00,0)" d="M0,0 V-10 L3.8,-3.6 L7.6,-10 V0" vector-effect="non-scaling-stroke"/><path transform="translate(10.90,0)" d="M0,0 V-10 H3.4 Q6.5,-10 6.5,-6.9 V-3.1 Q6.5,0 3.4,0 Z" vector-effect="non-scaling-stroke"/><path transform="translate(20.70,0)" d="M5.6,-10 H0 V0 M0,-5.1 H4.6" vector-effect="non-scaling-stroke"/><path transform="translate(29.60,0)" d="M0.3,-4.2 H4.3" vector-effect="non-scaling-stroke"/><path transform="translate(37.50,0)" d="M0,0 V-10 H4 Q6.1,-10 6.1,-7.9 V-7.4 Q6.1,-5.3 4,-5.3 H0 M4,-5.3 Q6.5,-5.3 6.5,-2.8 V-2.3 Q6.5,0 4.1,0 H0" vector-effect="non-scaling-stroke"/><path transform="translate(47.30,0)" d="M0.6,-6.6 Q1.2,-7 2,-7 H3.8 Q5.5,-7 5.5,-5.3 V0 M5.5,-3.9 H1.6 Q0,-3.9 0,-2.3 V-1.5 Q0,0 1.6,0 H3.6 Q4.9,0 5.5,-1.2" vector-effect="non-scaling-stroke"/><path transform="translate(56.10,0)" d="M5.3,-6.2 Q4.7,-7 3.4,-7 H2 Q0.2,-7 0.2,-5.3 Q0.2,-3.9 1.9,-3.7 L3.7,-3.4 Q5.5,-3.1 5.5,-1.6 Q5.5,0 3.6,0 H2 Q0.6,0 0,-0.9" vector-effect="non-scaling-stroke"/><path transform="translate(64.90,0)" d="M0.4,-7 V0 M0.4,-9.4 V-8.9" vector-effect="non-scaling-stroke"/><path transform="translate(69.00,0)" d="M5.3,-6.2 Q4.7,-7 3.4,-7 H2 Q0.2,-7 0.2,-5.3 Q0.2,-3.9 1.9,-3.7 L3.7,-3.4 Q5.5,-3.1 5.5,-1.6 Q5.5,0 3.6,0 H2 Q0.6,0 0,-0.9" vector-effect="non-scaling-stroke"/><path transform="translate(77.80,0)" d="M0,-7 V3 M0,-5.6 Q0.9,-7 2.5,-7 H3.7 Q5.5,-7 5.5,-5.2 V-1.8 Q5.5,0 3.7,0 H2.5 Q0.9,0 0,-1.4" vector-effect="non-scaling-stroke"/><path transform="translate(86.60,0)" d="M0.4,-10 V0" vector-effect="non-scaling-stroke"/><path transform="translate(90.70,0)" d="M0.6,-6.6 Q1.2,-7 2,-7 H3.8 Q5.5,-7 5.5,-5.3 V0 M5.5,-3.9 H1.6 Q0,-3.9 0,-2.3 V-1.5 Q0,0 1.6,0 H3.6 Q4.9,0 5.5,-1.2" vector-effect="non-scaling-stroke"/><path transform="translate(99.50,0)" d="M1.3,-9.3 V-1.3 Q1.3,0 2.6,0 H3.6 M0,-7 H3.6" vector-effect="non-scaling-stroke"/><path transform="translate(106.40,0)" d="M1.3,-9.3 V-1.3 Q1.3,0 2.6,0 H3.6 M0,-7 H3.6" vector-effect="non-scaling-stroke"/><path transform="translate(113.30,0)" d="M0,-3.6 H5.5 V-5.2 Q5.5,-7 3.7,-7 H1.8 Q0,-7 0,-5.2 V-1.8 Q0,0 1.8,0 H4.9" vector-effect="non-scaling-stroke"/></g>
<path d="M239.50,1183.75 L409.25,1183.75 L477.50,1061.75" fill="none" stroke="#111" stroke-width="1.2" stroke-linejoin="round"/>
<path d="M477.50,1061.75 L472.18,1075.96 L468.17,1073.72 Z" fill="#111" stroke="#111" stroke-width="0.8"/>
<g transform="translate(807.60,1080.70) scale(1.2719,1.42)" fill="none" stroke="#111" stroke-width="1.55" stroke-linecap="round" stroke-linejoin="round"><path transform="translate(0.00,0)" d="M0,-10 V-2.6 Q0,0 2.6,0 H3.6 Q6.2,0 6.2,-2.6 V-10" vector-effect="non-scaling-stroke"/><path transform="translate(9.50,0)" d="M0,-7 V0 M0,-5.6 Q0.9,-7 2.6,-7 H3.8 Q5.5,-7 5.5,-5.3 V0" vector-effect="non-scaling-stroke"/><path transform="translate(18.30,0)" d="M1.3,-9.3 V-1.3 Q1.3,0 2.6,0 H3.6 M0,-7 H3.6" vector-effect="non-scaling-stroke"/><path transform="translate(25.20,0)" d="M0,-3.6 H5.5 V-5.2 Q5.5,-7 3.7,-7 H1.8 Q0,-7 0,-5.2 V-1.8 Q0,0 1.8,0 H4.9" vector-effect="non-scaling-stroke"/><path transform="translate(34.00,0)" d="M0,-7 V0 M0,-5.2 Q1,-7 2.9,-7 H4" vector-effect="non-scaling-stroke"/><path transform="translate(41.30,0)" d="M0,-10 V0 M5.2,-7 L0.2,-2.6 M1.7,-3.9 L5.4,0" vector-effect="non-scaling-stroke"/><path transform="translate(50.00,0)" d="M1.8,0 Q0,0 0,-1.8 V-5.2 Q0,-7 1.8,-7 H3.7 Q5.5,-7 5.5,-5.2 V-1.8 Q5.5,0 3.7,0 Z" vector-effect="non-scaling-stroke"/><path transform="translate(58.80,0)" d="M0,-7 V0 M0,-5.6 Q0.9,-7 2.6,-7 H3.8 Q5.5,-7 5.5,-5.3 V0" vector-effect="non-scaling-stroke"/><path transform="translate(67.60,0)" d="M5.3,-6.2 Q4.7,-7 3.4,-7 H2 Q0.2,-7 0.2,-5.3 Q0.2,-3.9 1.9,-3.7 L3.7,-3.4 Q5.5,-3.1 5.5,-1.6 Q5.5,0 3.6,0 H2 Q0.6,0 0,-0.9" vector-effect="non-scaling-stroke"/><path transform="translate(76.40,0)" d="M1.3,-9.3 V-1.3 Q1.3,0 2.6,0 H3.6 M0,-7 H3.6" vector-effect="non-scaling-stroke"/><path transform="translate(83.30,0)" d="M0,-7 V0 M0,-5.2 Q1,-7 2.9,-7 H4" vector-effect="non-scaling-stroke"/><path transform="translate(90.60,0)" d="M0,-7 V-1.7 Q0,0 1.7,0 H2.9 Q4.6,0 5.5,-1.4 M5.5,-7 V0" vector-effect="non-scaling-stroke"/><path transform="translate(99.40,0)" d="M0,-10 V0 M5.2,-7 L0.2,-2.6 M1.7,-3.9 L5.4,0" vector-effect="non-scaling-stroke"/><path transform="translate(108.10,0)" d="M1.3,-9.3 V-1.3 Q1.3,0 2.6,0 H3.6 M0,-7 H3.6" vector-effect="non-scaling-stroke"/><path transform="translate(115.00,0)" d="M0.4,-7 V0 M0.4,-9.4 V-8.9" vector-effect="non-scaling-stroke"/><path transform="translate(119.10,0)" d="M1.8,0 Q0,0 0,-1.8 V-5.2 Q0,-7 1.8,-7 H3.7 Q5.5,-7 5.5,-5.2 V-1.8 Q5.5,0 3.7,0 Z" vector-effect="non-scaling-stroke"/><path transform="translate(127.90,0)" d="M0,-7 V0 M0,-5.6 Q0.9,-7 2.6,-7 H3.8 Q5.5,-7 5.5,-5.3 V0" vector-effect="non-scaling-stroke"/><path transform="translate(142.20,0)" d="M2.2,-10.5 Q0,-7.5 0,-4 Q0,-0.5 2.2,2" vector-effect="non-scaling-stroke"/><path transform="translate(147.70,0)" d="M0.6,-6.6 Q1.2,-7 2,-7 H3.8 Q5.5,-7 5.5,-5.3 V0 M5.5,-3.9 H1.6 Q0,-3.9 0,-2.3 V-1.5 Q0,0 1.6,0 H3.6 Q4.9,0 5.5,-1.2" vector-effect="non-scaling-stroke"/><path transform="translate(156.50,0)" d="M0.4,-10 V0" vector-effect="non-scaling-stroke"/><path transform="translate(160.60,0)" d="M1.3,-9.3 V-1.3 Q1.3,0 2.6,0 H3.6 M0,-7 H3.6" vector-effect="non-scaling-stroke"/><path transform="translate(167.50,0)" d="M0,-3.6 H5.5 V-5.2 Q5.5,-7 3.7,-7 H1.8 Q0,-7 0,-5.2 V-1.8 Q0,0 1.8,0 H4.9" vector-effect="non-scaling-stroke"/><path transform="translate(181.80,0)" d="M0,0 V-10 H3.4 Q6.5,-10 6.5,-6.9 V-3.1 Q6.5,0 3.4,0 Z" vector-effect="non-scaling-stroke"/><path transform="translate(191.60,0)" d="M0.4,-7 V0 M0.4,-9.4 V-8.9" vector-effect="non-scaling-stroke"/><path transform="translate(195.70,0)" d="M0,-3.6 H5.5 V-5.2 Q5.5,-7 3.7,-7 H1.8 Q0,-7 0,-5.2 V-1.8 Q0,0 1.8,0 H4.9" vector-effect="non-scaling-stroke"/><path transform="translate(204.50,0)" d="M0.4,-10 V0" vector-effect="non-scaling-stroke"/><path transform="translate(208.60,0)" d="M0,-7 V-1.7 Q0,0 1.7,0 H2.9 Q4.6,0 5.5,-1.4 M5.5,-7 V0" vector-effect="non-scaling-stroke"/><path transform="translate(217.40,0)" d="M0,-7 V0 M0,-5.6 Q0.9,-7 2.6,-7 H3.8 Q5.5,-7 5.5,-5.3 V0" vector-effect="non-scaling-stroke"/><path transform="translate(226.20,0)" d="M5.5,-7 V1.2 Q5.5,3 3.7,3 H0.9 M5.5,-1.4 Q4.6,0 3,0 H1.8 Q0,0 0,-1.8 V-5.2 Q0,-7 1.8,-7 H3 Q4.6,-7 5.5,-5.6" vector-effect="non-scaling-stroke"/><path transform="translate(235.00,0)" d="M0,-10.5 Q2.2,-7.5 2.2,-4 Q2.2,-0.5 0,2" vector-effect="non-scaling-stroke"/></g>
<path d="M1110.00,1095.50 L792.50,1095.50 L715.00,1027.20" fill="none" stroke="#111" stroke-width="1.2" stroke-linejoin="round"/>
<path d="M715.00,1027.20 L727.77,1035.39 L724.73,1038.84 Z" fill="#111" stroke="#111" stroke-width="0.8"/></g>
</svg>
</body></html>
